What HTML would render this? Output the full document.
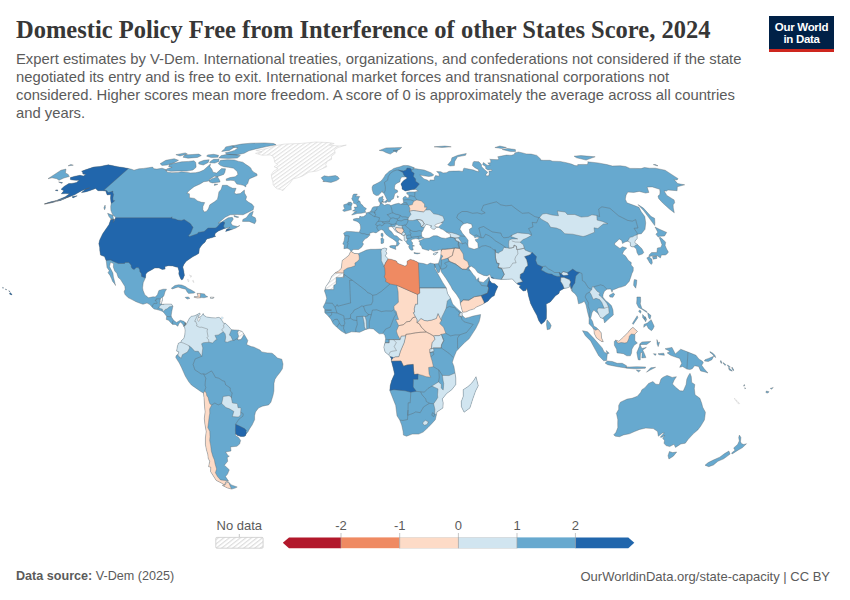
<!DOCTYPE html>
<html><head><meta charset="utf-8">
<style>
html,body{margin:0;padding:0;background:#fff;width:850px;height:600px;overflow:hidden;position:relative}
.t{position:absolute;white-space:nowrap}
#title{left:16px;top:16px;font-family:"Liberation Serif",serif;font-weight:bold;font-size:24.5px;color:#373737;letter-spacing:0px}
#sub{left:16px;top:49.5px;font-family:"Liberation Sans",sans-serif;font-size:14.8px;line-height:18px;color:#5b5b5b}
#logo{position:absolute;left:769px;top:16px;width:65px;height:33px;background:#002147;border-bottom:3px solid #ce261e}
#logo div{position:absolute;left:0;width:65px;text-align:center;color:#fff;font-family:"Liberation Sans",sans-serif;font-weight:bold;font-size:11.5px;letter-spacing:-0.3px}
#src{left:16px;top:569px;font-family:"Liberation Sans",sans-serif;font-size:12.6px;color:#5b5b5b}
#url{right:20px;top:569px;font-family:"Liberation Sans",sans-serif;font-size:13px;color:#5b5b5b}
.lg{position:absolute;font-family:"Liberation Sans",sans-serif;font-size:13px;color:#5b5b5b}
</style></head><body>
<div class="t" id="title">Domestic Policy Free from Interference of other States Score, 2024</div>
<div class="t" id="sub">Expert estimates by V-Dem. International treaties, organizations, and confederations not considered if the state<br>negotiated its entry and is free to exit. International market forces and transnational corporations not<br>considered. Higher scores mean more freedom. A score of 0 is approximately the average across all countries<br>and years.</div>
<div id="logo"><div style="top:4.5px">Our World</div><div style="top:17px">in Data</div></div>
<svg id="map" width="850" height="600" viewBox="0 0 850 600" style="position:absolute;left:0;top:0">
<defs><pattern id="hatch" patternUnits="userSpaceOnUse" width="3.1" height="10" patternTransform="rotate(54)"><rect width="3.1" height="10" fill="#fff"/><rect width="1.1" height="10" fill="#e2e2e2"/></pattern>
<clipPath id="landclip"><path d="M70.4,177.6L75.1,176.2L80.0,175.3L83.4,176.0L85.9,174.4L82.9,174.0L82.7,172.2L81.6,171.3L84.8,170.0L93.6,167.1L99.9,166.5L108.3,164.8L113.2,165.8L117.7,166.7L123.1,167.5L128.4,168.5L131.7,169.3L134.0,170.2L138.9,168.8L143.5,168.4L148.4,167.7L152.6,167.1L153.9,168.8L157.0,169.1L162.1,168.2L165.7,169.5L167.3,172.2L171.9,172.7L178.1,172.4L181.2,171.8L185.9,172.2L190.4,172.9L195.7,172.7L199.8,171.8L203.8,170.0L210.5,163.9L209.9,166.7L211.9,169.3L213.0,172.2L216.6,173.1L221.5,168.6L225.5,168.8L224.9,172.2L223.7,174.4L218.7,176.2L211.5,178.9L209.0,180.8L207.3,181.3L203.8,181.7L200.2,183.9L194.1,186.7L189.0,190.7L186.9,193.3L189.4,193.8L189.5,197.7L194.4,198.4L197.6,200.9L201.6,202.3L204.7,202.6L202.9,206.6L202.8,209.5L204.3,212.0L206.3,211.5L208.3,209.0L209.8,204.8L214.8,201.6L217.5,199.2L218.3,195.5L218.9,191.9L221.2,189.3L222.4,185.3L227.1,185.3L229.8,186.9L232.7,188.3L236.1,188.3L234.3,193.1L236.2,194.1L240.2,193.6L244.4,190.0L244.5,193.1L246.6,196.7L245.7,199.9L248.7,202.3L251.9,204.1L253.9,206.6L253.2,209.8L249.2,211.8L243.1,214.8L237.2,214.5L230.2,214.8L225.2,217.3L218.1,223.2L221.6,221.9L228.1,217.8L232.3,217.3L233.3,219.1L230.8,222.9L232.6,225.5L237.5,226.5L239.8,225.5L235.9,228.0L230.2,230.1L225.6,231.4L226.7,229.3L230.0,227.3L224.4,228.5L218.5,230.9L215.3,233.2L214.7,235.8L215.8,236.3L212.2,237.6L206.9,238.9L206.0,240.2L205.0,242.2L202.8,244.1L201.1,246.1L199.3,248.7L198.9,253.2L196.6,254.7L193.1,256.6L190.2,258.4L186.2,261.3L183.9,264.4L182.8,267.0L183.8,271.2L184.4,275.4L182.8,279.3L181.3,279.8L180.2,277.7L178.8,274.1L179.0,270.9L177.9,267.3L176.0,267.0L172.9,266.0L168.6,265.7L165.0,266.5L165.1,269.1L162.2,269.4L159.1,268.0L154.7,268.0L151.4,269.9L147.6,272.0L145.8,274.1L145.5,277.7L143.2,282.7L142.6,287.9L143.1,290.5L144.9,294.9L147.4,296.8L148.4,297.8L153.1,296.8L155.3,297.0L157.4,294.7L158.9,290.5L163.1,289.2L166.5,289.2L165.0,291.8L163.9,295.7L162.5,297.3L162.4,300.4L161.3,303.6L162.4,304.3L165.8,304.1L171.5,304.1L172.9,306.2L171.8,311.4L171.2,315.3L171.5,317.1L173.6,320.3L176.5,322.4L180.3,320.3L183.9,321.3L185.2,322.6L185.6,324.7L183.9,326.5L182.6,323.9L180.4,322.1L178.7,323.9L177.9,326.3L175.3,324.4L172.5,324.4L171.0,322.9L168.6,320.3L166.3,319.5L166.6,316.3L164.3,313.2L162.6,311.4L160.4,310.6L157.0,309.6L154.1,309.0L152.4,307.5L149.8,304.6L147.0,303.0L143.0,304.3L139.3,303.0L136.0,301.7L132.0,299.6L128.0,297.6L125.0,294.4L124.1,291.8L125.2,289.2L124.8,286.3L122.7,282.9L120.4,279.3L118.2,277.4L116.8,273.3L114.7,270.9L113.3,267.0L113.6,263.6L110.5,262.3L109.5,266.5L111.1,269.6L112.9,273.0L113.4,276.9L114.7,282.1L115.5,285.5L114.8,284.0L112.6,281.4L111.6,278.8L110.0,275.4L108.0,272.7L109.3,270.7L107.0,267.5L106.5,263.1L106.1,260.5L104.5,256.6L100.5,255.0L99.8,250.6L99.7,247.4L98.8,243.8L99.7,239.9L102.7,233.7L108.9,224.7L110.8,219.4L114.4,219.1L113.2,222.4L115.7,217.8L115.0,216.6L113.1,215.3L111.8,212.8L110.9,210.3L110.7,206.6L111.2,203.6L110.8,201.1L110.5,197.9L110.8,194.5L107.2,195.0L105.7,191.1L102.8,190.7L98.0,190.7L95.6,188.5L89.5,190.7L85.5,191.9L81.4,192.6L85.9,189.0L89.7,187.8L82.7,190.2L78.5,192.4L74.6,194.8L67.5,197.5L60.5,200.4L52.9,202.1L47.5,203.6L44.5,203.8L50.0,202.1L56.7,200.4L65.4,196.7L69.5,193.8L65.5,193.6L61.3,193.8L63.9,190.7L61.1,189.3L64.1,186.4L68.8,183.6L71.9,183.4L76.6,182.4L79.2,180.3L76.1,180.3L72.8,180.1L70.4,179.6ZM245.8,186.9L243.3,185.3L240.1,184.6L236.8,184.1L235.5,182.2L234.2,180.6L230.8,180.3L226.3,180.6L226.2,178.9L229.9,177.6L235.2,176.7L237.9,174.4L237.2,171.5L233.5,168.2L228.3,167.3L223.9,166.7L220.7,165.6L218.3,163.7L220.5,160.3L227.4,159.7L234.3,159.9L238.7,161.4L242.8,162.2L246.0,164.6L249.4,166.7L250.9,168.2L251.6,170.0L253.7,172.2L257.0,174.0L257.1,175.6L252.6,177.4L249.2,178.9L248.4,181.3L247.7,183.6L246.0,185.3ZM165.4,170.2L170.7,171.3L179.5,170.9L186.9,171.1L192.9,170.0L196.1,167.3L196.0,165.0L195.6,162.2L193.9,160.8L188.5,161.4L181.6,161.8L173.2,163.5L169.3,164.6L168.7,166.7L172.1,167.3L167.2,168.8ZM160.1,163.7L165.8,160.3L174.2,158.7L178.5,160.3L174.2,162.7L167.1,165.0L162.0,165.4ZM226.6,154.3L236.6,154.9L244.2,153.3L248.9,150.8L255.8,148.9L266.5,146.6L276.1,144.8L273.7,143.5L264.8,142.9L250.8,143.2L241.3,144.1L233.0,145.7L232.6,147.1L238.0,147.9L234.5,150.4L230.1,151.8L225.3,152.7ZM221.6,151.4L229.4,150.4L234.7,147.1L232.5,145.5L225.7,146.9L224.6,148.9ZM218.7,158.0L228.5,158.4L237.4,158.0L240.4,155.6L235.3,154.7L227.3,154.3L221.2,155.6ZM184.8,154.9L183.0,157.2L188.0,158.2L197.5,157.4L201.3,155.6L198.8,154.1L192.2,154.5ZM175.9,154.7L180.0,156.0L187.4,154.1L185.3,152.9ZM206.7,156.2L211.3,157.6L217.9,157.2L218.6,155.3L213.7,154.3L207.6,154.9ZM198.7,163.9L203.3,165.0L208.2,162.5L209.2,159.7L203.9,160.3L198.8,162.2ZM209.6,162.7L214.8,163.1L218.8,161.4L219.1,159.3L213.6,159.3L210.3,161.4ZM209.5,182.0L212.4,182.9L220.1,182.0L219.5,180.1L217.5,176.7L214.3,176.2L209.4,179.4ZM242.5,221.4L249.2,221.4L254.7,223.7L256.1,220.9L255.3,217.8L251.8,216.1L253.3,211.3L249.7,213.3L246.2,217.8L242.9,219.4ZM107.6,213.3L112.9,215.3L113.5,219.6L111.0,218.9L109.0,216.6ZM233.9,215.5L238.8,217.1L237.2,217.6L234.1,216.6ZM105.1,205.1L105.4,207.8L104.6,209.8L103.9,207.8ZM72.0,196.7L77.2,195.8L73.0,197.9ZM58.6,182.0L61.5,183.2L62.6,182.7L60.0,182.2ZM57.2,189.7L58.0,190.9L55.2,190.4ZM44.4,204.1L52.3,202.6L62.2,199.6L70.3,196.0L68.0,197.0L59.1,199.9L49.2,202.8ZM214.5,183.9L217.8,184.3L214.4,185.5ZM171.3,288.3L174.9,285.5L178.4,284.8L181.8,285.0L185.4,286.6L188.1,288.4L191.3,290.0L195.1,292.3L194.3,293.1L188.6,293.4L187.2,292.1L185.7,289.2L181.4,288.2L178.1,287.1L175.3,287.9L172.4,288.9ZM185.2,297.3L188.2,297.0L189.9,298.3L187.5,299.1L185.8,298.1ZM194.1,297.3L197.7,298.1L201.8,297.6L204.0,297.8L207.8,296.8L205.4,295.5L204.6,293.9L200.6,293.4L197.0,293.4L197.9,295.7L198.2,296.8L194.4,296.5ZM210.5,297.0L214.1,297.3L213.3,298.3L210.4,298.3ZM9.5,293.9L11.6,294.9L12.1,294.4L10.0,292.6L9.9,293.1ZM8.7,290.8L10.1,291.3L9.2,291.5ZM5.5,288.9L6.7,289.7L5.8,289.7ZM2.6,287.4L3.6,287.9L2.8,288.2ZM185.2,322.6L186.3,324.2L188.0,321.0L189.6,317.9L191.5,316.3L194.6,315.8L197.7,314.3L199.8,313.0L200.2,314.5L198.0,316.1L198.8,317.9L200.2,316.9L202.2,315.3L203.2,313.5L203.8,315.3L206.4,316.9L211.0,317.7L215.5,317.9L218.5,317.4L220.1,317.9L221.0,319.2L222.9,321.8L223.3,323.1L225.6,323.4L228.5,326.3L231.4,329.7L234.4,329.9L238.8,330.2L242.2,331.5L244.2,334.4L245.3,336.2L247.8,340.6L246.6,344.5L251.2,346.6L253.5,346.9L260.0,350.0L261.7,351.9L267.4,352.9L272.0,353.2L274.4,355.0L277.4,358.1L281.8,359.2L283.0,364.1L282.4,368.8L279.8,372.7L277.1,376.1L275.0,379.3L274.0,383.2L273.9,391.0L273.0,395.5L270.9,402.2L268.6,404.9L266.0,405.4L262.4,406.2L258.5,408.0L255.5,411.9L254.6,415.8L254.6,419.7L252.1,425.0L249.8,428.4L248.1,431.5L246.4,433.4L245.3,435.9L243.5,436.6L240.8,436.4L237.1,435.3L235.6,433.8L235.6,435.4L238.6,437.5L240.6,440.4L239.6,444.0L236.9,446.3L230.6,446.9L231.0,451.0L225.6,452.0L228.1,455.7L229.3,456.2L227.2,457.5L227.7,461.3L224.4,465.2L229.3,469.8L227.5,474.1L225.5,476.6L228.5,481.1L225.7,481.9L224.6,485.1L221.2,482.9L216.2,480.4L210.5,471.5L210.8,467.2L208.6,466.7L209.7,461.3L208.2,458.2L207.8,454.4L206.4,449.7L205.4,444.5L205.4,438.0L206.2,431.5L204.8,423.7L204.3,418.4L205.1,411.9L204.6,406.7L204.0,397.5L203.4,393.1L200.7,391.5L195.6,387.9L191.4,385.0L188.6,381.6L185.3,376.1L181.5,367.5L179.3,363.1L175.8,357.6L176.0,355.8L178.0,354.2L178.9,351.9L176.6,351.1L177.4,346.4L178.4,343.2L180.9,342.2L181.4,340.6L183.8,338.5L184.8,334.9L185.1,330.7L184.8,327.8L183.9,326.5ZM228.5,481.9L231.3,484.9L237.2,487.0L235.1,488.1L231.7,489.1L227.3,487.9L222.3,485.4L225.0,484.9L226.1,482.9ZM350.9,251.3L349.5,249.3L347.1,248.2L343.9,248.7L344.2,244.8L342.8,244.1L344.2,240.4L344.8,236.3L343.6,233.2L346.4,231.4L351.0,231.6L355.8,231.9L359.3,232.2L360.6,228.8L360.6,226.8L360.0,224.2L358.6,222.4L356.4,221.2L353.5,220.4L353.4,219.1L357.0,218.3L359.2,218.6L359.9,216.1L361.1,216.8L363.5,216.6L366.1,214.8L366.2,212.8L368.0,212.5L370.2,211.8L371.5,209.8L372.3,207.8L373.8,206.8L376.7,206.6L378.6,206.3L379.8,205.3L380.2,203.1L378.8,201.3L378.5,199.2L379.3,197.7L383.0,196.2L382.9,197.5L382.4,199.2L383.8,199.4L382.6,201.3L381.5,202.8L382.4,203.8L384.4,205.3L387.2,204.3L389.8,204.8L390.8,205.6L395.0,204.1L398.7,203.3L401.0,204.3L403.5,202.8L403.3,200.4L402.9,198.4L403.8,197.0L405.6,196.2L407.1,197.9L409.0,197.5L408.7,194.8L406.9,194.1L406.7,192.6L409.3,191.9L414.9,191.9L418.2,190.9L415.8,189.5L412.5,189.5L409.0,190.2L405.3,191.1L402.0,189.0L402.0,186.7L400.9,184.1L402.6,181.7L404.4,179.9L406.2,178.9L407.3,177.8L405.7,176.9L401.6,177.1L400.3,179.4L400.0,181.7L397.0,183.2L395.0,184.8L394.5,187.6L394.6,189.3L397.3,190.2L397.8,191.9L394.7,193.8L394.1,196.5L393.4,198.7L391.1,199.9L390.3,201.8L387.8,201.8L387.1,199.9L385.5,196.5L383.9,193.3L382.5,192.4L382.4,190.9L380.7,193.1L378.4,195.3L376.2,195.5L373.5,193.8L372.9,191.9L372.2,189.5L372.1,187.1L373.0,185.3L375.6,184.1L378.2,182.7L380.8,181.3L382.4,179.4L384.2,176.9L385.4,174.7L387.7,172.7L389.2,171.3L391.6,170.0L393.8,168.4L397.0,167.5L400.1,166.7L403.2,165.6L405.2,165.4L408.1,165.6L409.8,166.0L412.6,167.1L414.4,167.7L413.0,168.4L416.4,168.8L419.0,169.3L424.2,170.0L431.0,172.7L433.8,174.9L432.2,176.0L428.8,176.5L422.5,175.6L419.8,175.1L424.0,178.9L427.3,180.1L429.6,181.7L429.9,179.9L434.4,180.1L434.2,177.8L435.5,175.6L439.2,176.2L439.1,173.8L436.6,171.5L440.9,171.8L443.0,172.9L446.3,172.7L449.1,171.3L453.2,171.1L455.8,171.1L459.0,170.9L462.7,171.5L463.7,168.4L464.4,168.2L470.0,169.3L473.7,170.0L476.0,171.1L478.9,171.8L478.3,169.5L474.9,167.7L472.4,165.6L473.0,162.5L473.9,161.4L479.0,161.8L481.4,164.6L481.6,166.7L484.9,170.0L487.7,172.2L485.8,174.7L486.6,176.0L488.9,175.6L489.2,173.3L489.0,171.1L491.9,170.9L491.5,169.5L487.9,170.0L485.6,168.4L485.8,166.7L482.6,164.6L483.4,162.5L487.1,165.2L490.2,165.0L487.8,162.9L490.8,162.7L490.7,160.1L489.7,159.3L498.0,159.7L498.7,158.2L497.7,156.8L501.5,156.0L506.5,155.1L511.3,155.3L514.7,154.3L514.6,152.9L518.3,152.0L521.8,152.7L526.3,153.9L531.1,154.1L536.8,155.4L540.9,159.3L540.2,160.1L543.6,160.3L550.0,160.3L552.6,161.2L560.0,161.4L566.4,162.7L571.5,164.1L575.0,165.6L577.7,165.8L577.7,164.6L583.1,164.4L587.4,164.6L588.0,162.7L587.7,161.8L598.0,162.9L606.9,164.6L612.4,166.0L620.3,165.8L625.7,166.5L630.0,168.4L635.0,168.4L641.1,168.6L644.4,167.5L649.6,168.2L655.4,168.2L665.1,170.2L678.1,178.7L677.1,179.9L674.1,179.6L677.7,183.6L684.7,184.8L677.3,186.7L677.1,190.7L667.9,190.0L666.6,191.1L664.1,190.9L666.9,195.5L674.1,199.9L674.7,202.8L673.1,204.8L673.3,208.1L674.3,212.8L669.4,209.0L662.5,202.8L658.6,198.4L658.0,196.0L659.8,194.5L660.0,191.9L659.7,189.3L652.3,186.9L647.1,187.1L648.9,192.4L645.6,193.1L639.2,191.4L633.7,192.4L627.9,192.1L626.1,195.0L625.3,199.2L626.9,202.8L632.4,204.8L639.0,207.3L641.1,211.5L644.8,216.6L645.7,222.9L645.0,229.3L641.4,233.7L637.5,234.2L637.1,235.0L637.2,238.4L635.1,240.9L634.9,242.8L637.5,244.6L641.9,248.7L643.8,252.6L642.4,253.9L638.6,255.3L637.0,252.6L636.4,249.0L634.1,246.9L632.0,246.9L630.4,245.9L630.3,242.5L627.6,241.2L625.0,242.0L622.5,243.5L621.7,240.4L619.1,238.9L617.2,241.2L614.8,243.0L614.7,244.8L618.5,247.4L620.0,248.5L622.4,246.7L626.7,248.0L623.8,251.1L622.4,253.9L625.3,255.8L628.5,260.5L631.3,262.6L631.1,264.9L633.3,267.5L633.2,270.9L631.9,273.5L630.7,277.4L629.2,281.4L625.5,285.5L621.3,287.1L619.1,287.4L614.9,289.2L612.6,290.0L612.1,292.3L610.6,288.9L607.0,289.2L604.4,291.3L603.1,294.4L602.8,297.0L605.3,300.2L608.5,302.8L611.4,305.6L613.0,310.1L613.3,315.0L610.4,317.4L607.8,319.7L604.6,322.9L603.6,318.7L600.5,317.7L598.0,313.5L593.8,310.1L592.0,312.7L590.7,318.4L592.5,321.3L593.9,326.3L596.1,327.3L598.0,329.1L601.2,332.8L601.6,338.0L603.3,341.7L601.4,341.4L596.5,338.0L594.3,333.6L593.9,329.7L592.4,327.3L589.0,323.7L589.1,317.9L587.6,312.2L586.0,304.9L584.3,301.2L581.8,302.8L578.5,303.8L577.2,297.0L575.2,293.9L571.9,291.3L570.0,286.6L567.3,287.9L564.0,288.4L559.6,291.0L559.0,293.4L555.5,295.7L550.3,302.0L546.2,304.1L546.5,310.6L546.4,318.4L544.3,321.8L541.2,324.2L538.7,320.5L536.8,315.3L533.9,310.1L530.6,303.6L528.5,296.0L527.4,290.5L526.7,288.2L525.9,290.5L523.2,291.0L519.1,287.1L520.8,285.8L517.2,284.0L514.2,281.1L512.4,279.0L507.7,279.3L501.2,279.5L496.4,279.0L491.4,278.0L489.8,274.6L487.1,275.9L483.7,275.4L477.7,272.5L475.1,268.8L471.4,266.2L469.3,267.0L468.9,268.8L470.7,270.9L473.0,274.3L475.4,276.9L476.4,280.1L478.6,277.7L479.0,281.4L483.3,282.4L487.4,278.8L489.0,276.7L489.6,280.3L491.7,282.9L494.9,283.7L497.9,286.6L495.5,291.8L494.2,295.7L492.0,296.8L489.3,299.4L488.2,300.9L482.1,304.6L476.1,307.2L474.4,308.8L469.4,310.3L466.1,311.9L462.6,312.2L461.3,307.5L460.4,303.6L459.7,299.6L456.5,294.4L452.3,289.2L451.0,286.6L448.5,282.4L446.0,278.5L441.4,272.0L440.4,268.3L439.4,272.2L437.9,272.7L435.3,267.3L434.3,263.9L438.4,263.6L439.6,260.0L440.6,256.8L441.0,253.4L441.0,251.3L441.1,249.3L439.7,249.8L436.6,250.6L433.6,251.1L429.9,249.3L428.8,250.6L425.9,249.8L422.3,248.7L421.4,246.1L419.8,244.8L419.9,242.2L418.7,240.9L421.4,239.9L424.4,238.4L429.2,238.1L433.5,235.8L437.1,235.8L441.2,237.8L445.5,238.4L450.5,237.1L450.2,234.2L446.5,232.2L442.9,229.6L440.7,228.8L438.8,227.3L436.3,227.3L434.6,229.3L432.5,229.1L430.3,227.0L432.0,226.0L428.7,225.0L426.1,224.2L424.3,227.3L422.9,230.6L421.5,232.7L421.7,235.8L422.0,236.8L424.3,238.1L421.2,238.4L418.6,239.4L418.1,238.9L415.9,238.6L413.5,239.1L411.6,239.4L411.1,240.9L412.8,243.0L412.1,244.8L414.5,245.9L412.4,246.4L413.2,250.0L411.5,250.3L409.9,249.3L408.6,246.7L409.5,245.4L407.3,244.1L406.1,242.0L404.2,239.9L404.1,236.3L401.8,234.5L399.6,233.2L396.4,231.9L394.6,230.1L393.0,227.5L391.1,226.5L388.4,227.3L389.0,229.8L391.4,231.6L394.2,235.5L396.9,236.0L399.4,238.4L402.4,240.7L401.1,240.4L399.1,239.6L398.2,241.7L399.6,243.5L397.6,246.1L396.5,245.6L396.7,242.2L394.7,240.4L392.7,238.9L389.4,237.1L386.3,234.7L385.0,233.2L383.4,230.4L381.1,229.6L378.7,231.1L376.0,232.9L373.1,232.2L369.7,233.2L369.8,235.3L367.3,237.8L364.8,239.1L362.4,242.2L363.5,244.1L361.6,247.2L358.5,249.5L353.6,249.5ZM351.7,215.0L354.7,214.3L357.1,213.5L361.1,213.3L365.8,212.3L365.0,210.8L366.4,208.6L363.6,206.8L362.7,205.3L360.6,203.6L360.0,201.3L358.3,200.4L358.3,198.9L359.7,196.5L356.9,196.2L355.5,196.5L357.3,194.1L353.7,194.1L352.7,195.5L352.5,197.2L351.7,198.4L352.6,200.4L353.5,201.6L353.6,203.3L356.1,204.1L356.8,205.3L357.2,207.1L354.1,207.1L354.8,208.3L355.0,209.5L352.6,210.8L354.8,211.3L356.5,211.8L354.3,212.3ZM351.3,209.8L351.2,206.6L352.3,203.6L350.9,202.3L348.6,202.3L346.8,203.8L343.7,204.8L343.8,206.8L344.8,208.8L342.6,210.3L344.1,211.5L346.9,210.8L350.7,209.8ZM324.1,181.5L321.2,177.8L324.2,175.8L328.4,176.5L335.5,175.6L337.9,176.7L339.3,178.7L336.6,180.6L331.0,182.4L325.8,181.7L322.8,181.5ZM381.0,233.5L382.7,233.2L383.2,235.3L382.5,237.3L381.1,236.0ZM380.8,238.6L382.5,237.8L383.8,239.6L383.5,243.0L382.3,243.5L381.0,243.5L381.1,240.9ZM389.7,246.1L391.6,245.6L396.5,245.4L395.5,247.7L395.9,249.5L389.9,247.2ZM414.0,252.4L416.2,252.9L420.2,253.2L417.4,253.9L414.1,253.4ZM433.3,253.7L434.7,252.9L438.1,252.1L436.5,253.9L434.7,255.0L433.3,254.5ZM384.2,202.1L386.9,200.1L387.2,201.8L385.8,202.8ZM381.9,201.6L383.8,201.6L383.3,202.8ZM397.2,195.8L398.7,196.7L397.7,197.9ZM379.2,150.4L386.1,147.9L394.6,147.7L401.7,147.4L399.5,149.5L394.2,151.4L390.3,154.1L386.3,152.7L383.0,151.0ZM393.2,150.4L397.6,150.4L396.6,152.4ZM447.7,164.8L451.2,160.8L451.9,157.8L457.8,155.3L466.3,153.5L465.5,155.3L457.5,156.8L454.7,161.4L454.4,165.6L450.0,166.0ZM434.1,146.8L444.9,146.0L451.2,146.8L441.9,147.5ZM502.2,149.5L507.5,148.5L515.3,149.5L515.6,151.4L510.6,151.6ZM494.9,147.5L499.9,146.0L506.4,147.5L501.8,148.5ZM574.1,156.2L580.8,155.6L595.2,156.8L592.2,157.8L586.1,160.1L576.6,157.8ZM653.3,164.6L655.3,164.4L658.0,165.8L656.0,165.6ZM70.8,164.4L73.3,165.2L68.1,165.8ZM61.0,170.2L66.0,169.1L65.4,172.9L68.2,174.4L69.3,176.5L63.9,178.0L59.0,180.3L56.8,178.7L52.0,177.8L48.0,178.7ZM638.0,204.6L643.4,208.1L651.2,216.6L654.6,218.3L654.9,222.9L654.7,225.5L649.9,219.1L643.8,210.8ZM658.2,237.1L655.9,234.2L657.8,232.2L655.0,227.0L659.5,229.3L666.7,232.4L664.5,236.0L659.8,236.3ZM659.9,237.1L663.0,239.6L665.6,242.2L665.1,245.4L666.6,249.0L668.4,252.1L667.0,253.9L665.3,255.0L661.4,255.0L660.4,257.9L657.3,255.8L653.0,255.8L648.9,256.6L649.3,254.7L651.6,252.6L656.9,252.4L657.4,248.0L660.8,247.4L662.0,244.8L660.6,240.9L659.3,237.8ZM653.3,259.2L652.4,256.6L656.6,256.0L656.9,258.4ZM646.8,257.9L649.0,256.8L651.9,259.2L652.3,263.3L651.2,264.4L649.8,263.1L648.1,260.0ZM634.4,279.5L636.8,280.1L636.5,284.0L635.7,288.2L633.6,285.3L633.9,281.4ZM609.4,295.2L613.4,293.1L614.7,294.2L612.9,297.3L609.9,297.0ZM546.5,324.4L547.0,319.7L549.9,323.1L551.2,325.7L549.9,329.1L547.2,329.7ZM636.9,297.0L640.5,297.0L640.7,300.9L640.3,303.8L641.9,308.5L646.8,311.4L646.7,312.4L642.0,309.3L638.6,307.5L636.6,303.6L636.9,299.6ZM643.7,327.3L644.0,324.4L647.3,323.1L651.2,319.7L654.2,326.3L653.0,328.9L651.5,330.7L648.4,328.4L646.5,325.0ZM642.6,314.5L645.7,317.9L644.3,319.5L642.7,317.7ZM647.6,312.7L651.0,315.6L650.0,319.2L648.7,317.7ZM645.1,316.6L646.6,319.2L645.6,321.8L644.3,319.2ZM632.4,323.4L637.2,315.8L637.9,317.7L633.2,324.4ZM639.6,310.1L641.1,311.1L640.6,313.2L638.6,311.4ZM582.5,330.7L587.6,331.8L594.2,338.8L602.2,347.9L604.1,351.9L607.3,353.7L606.6,360.5L603.6,360.7L598.7,355.8L595.4,349.8L590.6,340.9L585.4,335.7ZM605.1,363.1L607.3,361.0L612.3,361.5L617.2,363.3L622.3,363.3L626.5,365.7L626.1,368.0L619.3,367.0L612.5,365.7L607.7,364.7ZM626.2,366.7L629.7,367.0L636.6,366.7L645.7,367.0L645.2,368.3L635.3,368.8L626.4,368.3ZM646.5,372.2L650.7,367.8L655.6,367.3L650.1,370.1ZM636.3,370.1L640.5,370.4L638.5,372.0ZM606.2,350.6L609.2,353.2L607.3,353.7ZM614.3,341.4L615.7,340.1L618.9,341.2L623.4,337.0L627.9,332.5L630.0,329.7L632.9,327.3L637.5,331.5L634.9,334.1L634.8,340.6L637.4,343.0L634.1,345.3L631.9,349.2L631.5,353.2L630.3,355.8L626.8,355.8L623.4,353.7L620.0,353.2L617.0,352.9L616.6,349.2L614.4,345.3ZM638.2,359.7L640.2,360.0L640.5,353.2L642.2,352.1L641.8,357.9L645.9,357.6L644.2,353.2L642.7,350.0L646.4,347.4L641.8,348.5L639.8,343.8L642.0,341.9L650.8,341.4L646.7,344.5L639.8,344.3L639.3,346.6L636.8,352.6ZM656.9,339.6L658.2,342.7L659.6,342.2L658.2,346.6L657.1,344.0ZM658.0,353.7L663.8,353.2L664.4,355.3L659.1,354.7ZM653.4,353.7L656.2,353.9L655.2,355.5ZM350.3,251.9L351.6,251.6L354.4,253.4L358.3,253.7L363.1,251.6L366.3,250.0L370.6,249.3L374.9,249.3L381.6,249.0L384.6,248.0L387.0,248.7L385.8,251.3L386.9,253.2L385.3,255.8L386.7,257.3L388.2,258.9L391.5,259.4L396.4,261.0L397.6,263.3L400.6,264.4L405.1,266.2L407.2,264.4L407.0,261.3L410.2,259.4L413.5,260.2L416.9,261.8L418.4,262.7L423.7,263.6L427.1,264.7L430.2,263.1L434.3,263.9L435.3,267.3L434.7,268.3L437.7,273.5L439.1,276.1L442.9,282.7L446.3,287.9L447.6,293.6L450.5,298.3L452.7,304.1L456.8,308.3L460.3,311.4L462.2,313.2L462.1,315.3L465.2,318.2L468.6,317.4L473.1,316.1L480.6,314.5L480.1,317.9L479.1,321.8L475.8,328.4L472.5,333.6L469.1,338.8L464.5,342.7L459.9,347.4L456.4,351.3L454.0,357.1L452.3,362.3L453.9,366.2L454.9,372.2L455.8,378.0L455.8,384.5L451.8,389.7L446.6,393.6L442.3,398.9L443.2,402.8L442.9,408.0L437.0,411.9L436.3,415.3L435.3,419.7L431.7,423.7L428.0,427.6L423.2,432.0L418.7,434.1L412.2,434.1L406.6,436.2L403.4,435.1L403.1,431.5L401.7,425.0L399.7,420.0L397.0,415.8L395.7,405.4L393.6,400.2L389.8,390.4L390.2,385.8L391.6,380.6L394.5,374.0L393.4,368.8L391.4,361.3L391.2,358.4L389.6,355.8L385.0,351.9L383.8,347.2L385.0,342.7L385.6,338.8L384.9,335.4L383.3,333.6L379.2,333.8L375.7,331.0L373.4,328.9L369.3,328.6L365.8,329.4L359.6,332.3L356.2,332.0L351.5,331.8L345.8,333.8L341.2,331.0L336.6,327.1L333.2,323.7L330.9,319.2L327.5,315.3L324.8,312.7L324.7,309.3L323.1,307.0L325.5,302.3L326.7,298.3L325.7,294.4L324.5,291.0L325.9,286.6L329.4,281.4L331.8,276.1L335.2,272.7L338.6,270.9L341.3,268.3L341.6,265.7L342.2,260.5L345.6,257.9L348.9,255.3ZM476.0,376.7L478.3,385.8L475.6,391.0L472.8,398.9L469.9,408.0L464.1,412.2L461.4,406.7L461.3,401.5L463.3,396.2L463.2,389.7L468.0,386.6L471.6,383.2L474.0,380.1ZM620.4,402.2L627.1,399.1L632.0,398.3L637.4,396.2L640.8,392.3L641.9,389.7L644.7,387.9L648.6,383.4L652.9,381.6L655.8,384.2L659.2,384.5L661.0,379.0L663.1,377.2L667.0,375.4L668.9,376.1L672.2,377.4L676.4,376.7L674.2,380.1L672.5,384.0L675.4,387.1L679.9,390.8L683.3,391.0L686.1,384.5L686.8,379.3L688.5,375.4L690.0,373.3L691.3,376.7L691.7,382.4L694.8,384.5L694.3,388.4L695.0,394.7L699.9,398.3L701.8,403.6L702.7,407.2L705.4,412.2L705.0,415.8L704.4,420.0L700.6,426.3L697.8,429.9L693.5,433.6L688.2,439.3L685.3,443.2L680.8,444.0L675.5,447.4L674.0,444.3L669.7,446.6L666.0,445.6L664.0,443.2L664.5,440.6L662.7,438.3L664.7,435.4L662.0,437.2L660.2,437.2L664.3,432.8L662.5,433.1L658.3,436.2L657.6,431.5L653.3,428.6L645.8,428.1L639.8,429.4L634.6,431.5L629.4,433.8L623.5,434.9L619.6,436.7L615.4,436.2L613.7,434.9L616.0,432.3L617.8,427.6L617.7,423.7L617.8,419.7L616.7,414.5L616.3,413.5L618.7,409.3L618.7,405.4ZM669.4,451.5L672.6,452.6L676.7,452.0L673.3,456.2L668.9,459.0L668.0,455.7ZM739.4,435.1L740.9,437.5L740.5,441.4L741.3,443.5L743.8,444.5L746.5,443.7L742.6,447.6L738.8,449.7L732.2,453.9L731.5,453.1L735.0,450.2L733.7,447.9L737.6,444.5L739.3,440.9L738.7,437.5ZM728.9,451.0L730.1,454.1L723.7,458.8L717.9,461.3L713.5,464.9L708.8,466.7L705.0,465.2L708.2,462.6L713.3,460.0L719.7,457.2L724.6,453.6ZM665.1,348.7L672.0,347.4L675.3,353.9L680.7,349.2L688.0,352.1L696.0,355.3L698.8,358.9L702.5,361.3L703.3,362.8L701.7,365.2L704.2,368.8L707.3,372.2L707.9,373.0L705.0,372.0L700.6,370.9L698.6,366.5L694.6,365.7L692.2,368.8L689.9,369.6L686.9,369.1L682.6,366.5L679.7,367.3L681.7,363.3L679.7,358.4L674.0,356.6L670.6,355.3L667.2,352.9L670.1,351.3L665.8,349.2ZM705.0,359.7L708.5,358.4L713.7,356.3L711.9,359.7L708.3,361.5L704.4,361.0ZM709.9,351.6L712.9,353.2L714.9,355.3L715.7,357.6L714.6,356.8L712.4,354.2L710.1,352.4ZM721.0,360.5L721.9,363.1L721.0,363.3L720.3,361.0ZM723.1,362.6L725.9,364.7L725.2,365.4L723.3,363.6ZM727.7,364.9L730.3,367.0L729.6,367.5L727.4,365.7ZM728.4,367.5L731.6,370.1L732.2,371.2L729.3,370.1ZM731.9,367.0L733.9,370.1L733.2,370.7L732.0,368.6ZM766.3,391.0L769.1,391.8L767.8,393.1L765.9,392.6ZM770.3,388.4L773.3,387.6L771.3,389.2ZM744.4,384.5L744.7,385.8L743.5,386.1ZM744.8,387.6L745.7,388.4L744.8,388.7ZM255.8,150.4L267.0,148.5L275.2,145.7L284.2,144.1L301.3,143.4L315.8,142.0L329.0,142.6L334.2,143.5L329.5,145.2L339.1,146.0L346.3,145.1L338.0,147.5L334.6,149.9L335.2,153.3L331.5,156.2L331.6,159.3L327.2,161.4L325.7,164.6L326.8,166.7L322.2,168.8L316.7,171.1L308.8,172.2L302.6,176.0L297.7,177.8L293.0,178.9L289.8,183.6L285.9,187.1L282.9,190.7L280.6,189.5L277.2,188.8L275.0,187.1L273.2,184.8L272.8,181.3L271.6,177.8L271.4,174.4L273.7,171.1L278.1,168.8L274.1,166.7L277.7,164.6L274.8,162.5L274.2,159.3L272.9,156.2L270.1,154.9L262.2,155.3L255.5,153.3L262.0,151.8ZM187.4,279.5L188.5,281.9L188.9,280.1L188.2,279.3ZM190.3,275.9L190.7,277.4L191.9,276.1L189.4,275.1ZM192.4,280.6L193.8,282.7L193.4,280.3ZM221.1,317.1L223.1,317.1L223.0,319.0L221.0,319.0ZM734.4,398.1L739.7,403.6L738.3,403.8L734.6,399.1Z"/></clipPath></defs>
<path d="M255.8,150.4L267.0,148.5L275.2,145.7L284.2,144.1L301.3,143.4L315.8,142.0L329.0,142.6L334.2,143.5L329.5,145.2L339.1,146.0L346.3,145.1L338.0,147.5L334.6,149.9L335.2,153.3L331.5,156.2L331.6,159.3L327.2,161.4L325.7,164.6L326.8,166.7L322.2,168.8L316.7,171.1L308.8,172.2L302.6,176.0L297.7,177.8L293.0,178.9L289.8,183.6L285.9,187.1L282.9,190.7L280.6,189.5L277.2,188.8L275.0,187.1L273.2,184.8L272.8,181.3L271.6,177.8L271.4,174.4L273.7,171.1L278.1,168.8L274.1,166.7L277.7,164.6L274.8,162.5L274.2,159.3L272.9,156.2L270.1,154.9L262.2,155.3L255.5,153.3L262.0,151.8ZM187.4,279.5L188.5,281.9L188.9,280.1L188.2,279.3ZM190.3,275.9L190.7,277.4L191.9,276.1L189.4,275.1ZM192.4,280.6L193.8,282.7L193.4,280.3ZM221.1,317.1L223.1,317.1L223.0,319.0L221.0,319.0ZM734.4,398.1L739.7,403.6L738.3,403.8L734.6,399.1Z" fill="url(#hatch)" stroke="#d0d0d0" stroke-width="0.5"/>
<path d="M70.4,177.6L75.1,176.2L80.0,175.3L83.4,176.0L85.9,174.4L82.9,174.0L82.7,172.2L81.6,171.3L84.8,170.0L93.6,167.1L99.9,166.5L108.3,164.8L113.2,165.8L117.7,166.7L123.1,167.5L128.4,168.5L131.7,169.3L134.0,170.2L138.9,168.8L143.5,168.4L148.4,167.7L152.6,167.1L153.9,168.8L157.0,169.1L162.1,168.2L165.7,169.5L167.3,172.2L171.9,172.7L178.1,172.4L181.2,171.8L185.9,172.2L190.4,172.9L195.7,172.7L199.8,171.8L203.8,170.0L210.5,163.9L209.9,166.7L211.9,169.3L213.0,172.2L216.6,173.1L221.5,168.6L225.5,168.8L224.9,172.2L223.7,174.4L218.7,176.2L211.5,178.9L209.0,180.8L207.3,181.3L203.8,181.7L200.2,183.9L194.1,186.7L189.0,190.7L186.9,193.3L189.4,193.8L189.5,197.7L194.4,198.4L197.6,200.9L201.6,202.3L204.7,202.6L202.9,206.6L202.8,209.5L204.3,212.0L206.3,211.5L208.3,209.0L209.8,204.8L214.8,201.6L217.5,199.2L218.3,195.5L218.9,191.9L221.2,189.3L222.4,185.3L227.1,185.3L229.8,186.9L232.7,188.3L236.1,188.3L234.3,193.1L236.2,194.1L240.2,193.6L244.4,190.0L244.5,193.1L246.6,196.7L245.7,199.9L248.7,202.3L251.9,204.1L253.9,206.6L253.2,209.8L249.2,211.8L243.1,214.8L237.2,214.5L230.2,214.8L225.2,217.3L218.1,223.2L221.6,221.9L228.1,217.8L232.3,217.3L233.3,219.1L230.8,222.9L232.6,225.5L237.5,226.5L239.8,225.5L235.9,228.0L230.2,230.1L225.6,231.4L226.7,229.3L230.0,227.3L224.4,228.5L218.5,230.9L215.3,233.2L214.7,235.8L215.8,236.3L212.2,237.6L206.9,238.9L206.0,240.2L205.0,242.2L202.8,244.1L201.1,246.1L199.3,248.7L198.9,253.2L196.6,254.7L193.1,256.6L190.2,258.4L186.2,261.3L183.9,264.4L182.8,267.0L183.8,271.2L184.4,275.4L182.8,279.3L181.3,279.8L180.2,277.7L178.8,274.1L179.0,270.9L177.9,267.3L176.0,267.0L172.9,266.0L168.6,265.7L165.0,266.5L165.1,269.1L162.2,269.4L159.1,268.0L154.7,268.0L151.4,269.9L147.6,272.0L145.8,274.1L145.5,277.7L143.2,282.7L142.6,287.9L143.1,290.5L144.9,294.9L147.4,296.8L148.4,297.8L153.1,296.8L155.3,297.0L157.4,294.7L158.9,290.5L163.1,289.2L166.5,289.2L165.0,291.8L163.9,295.7L162.5,297.3L162.4,300.4L161.3,303.6L162.4,304.3L165.8,304.1L171.5,304.1L172.9,306.2L171.8,311.4L171.2,315.3L171.5,317.1L173.6,320.3L176.5,322.4L180.3,320.3L183.9,321.3L185.2,322.6L185.6,324.7L183.9,326.5L182.6,323.9L180.4,322.1L178.7,323.9L177.9,326.3L175.3,324.4L172.5,324.4L171.0,322.9L168.6,320.3L166.3,319.5L166.6,316.3L164.3,313.2L162.6,311.4L160.4,310.6L157.0,309.6L154.1,309.0L152.4,307.5L149.8,304.6L147.0,303.0L143.0,304.3L139.3,303.0L136.0,301.7L132.0,299.6L128.0,297.6L125.0,294.4L124.1,291.8L125.2,289.2L124.8,286.3L122.7,282.9L120.4,279.3L118.2,277.4L116.8,273.3L114.7,270.9L113.3,267.0L113.6,263.6L110.5,262.3L109.5,266.5L111.1,269.6L112.9,273.0L113.4,276.9L114.7,282.1L115.5,285.5L114.8,284.0L112.6,281.4L111.6,278.8L110.0,275.4L108.0,272.7L109.3,270.7L107.0,267.5L106.5,263.1L106.1,260.5L104.5,256.6L100.5,255.0L99.8,250.6L99.7,247.4L98.8,243.8L99.7,239.9L102.7,233.7L108.9,224.7L110.8,219.4L114.4,219.1L113.2,222.4L115.7,217.8L115.0,216.6L113.1,215.3L111.8,212.8L110.9,210.3L110.7,206.6L111.2,203.6L110.8,201.1L110.5,197.9L110.8,194.5L107.2,195.0L105.7,191.1L102.8,190.7L98.0,190.7L95.6,188.5L89.5,190.7L85.5,191.9L81.4,192.6L85.9,189.0L89.7,187.8L82.7,190.2L78.5,192.4L74.6,194.8L67.5,197.5L60.5,200.4L52.9,202.1L47.5,203.6L44.5,203.8L50.0,202.1L56.7,200.4L65.4,196.7L69.5,193.8L65.5,193.6L61.3,193.8L63.9,190.7L61.1,189.3L64.1,186.4L68.8,183.6L71.9,183.4L76.6,182.4L79.2,180.3L76.1,180.3L72.8,180.1L70.4,179.6ZM245.8,186.9L243.3,185.3L240.1,184.6L236.8,184.1L235.5,182.2L234.2,180.6L230.8,180.3L226.3,180.6L226.2,178.9L229.9,177.6L235.2,176.7L237.9,174.4L237.2,171.5L233.5,168.2L228.3,167.3L223.9,166.7L220.7,165.6L218.3,163.7L220.5,160.3L227.4,159.7L234.3,159.9L238.7,161.4L242.8,162.2L246.0,164.6L249.4,166.7L250.9,168.2L251.6,170.0L253.7,172.2L257.0,174.0L257.1,175.6L252.6,177.4L249.2,178.9L248.4,181.3L247.7,183.6L246.0,185.3ZM165.4,170.2L170.7,171.3L179.5,170.9L186.9,171.1L192.9,170.0L196.1,167.3L196.0,165.0L195.6,162.2L193.9,160.8L188.5,161.4L181.6,161.8L173.2,163.5L169.3,164.6L168.7,166.7L172.1,167.3L167.2,168.8ZM160.1,163.7L165.8,160.3L174.2,158.7L178.5,160.3L174.2,162.7L167.1,165.0L162.0,165.4ZM226.6,154.3L236.6,154.9L244.2,153.3L248.9,150.8L255.8,148.9L266.5,146.6L276.1,144.8L273.7,143.5L264.8,142.9L250.8,143.2L241.3,144.1L233.0,145.7L232.6,147.1L238.0,147.9L234.5,150.4L230.1,151.8L225.3,152.7ZM221.6,151.4L229.4,150.4L234.7,147.1L232.5,145.5L225.7,146.9L224.6,148.9ZM218.7,158.0L228.5,158.4L237.4,158.0L240.4,155.6L235.3,154.7L227.3,154.3L221.2,155.6ZM184.8,154.9L183.0,157.2L188.0,158.2L197.5,157.4L201.3,155.6L198.8,154.1L192.2,154.5ZM175.9,154.7L180.0,156.0L187.4,154.1L185.3,152.9ZM206.7,156.2L211.3,157.6L217.9,157.2L218.6,155.3L213.7,154.3L207.6,154.9ZM198.7,163.9L203.3,165.0L208.2,162.5L209.2,159.7L203.9,160.3L198.8,162.2ZM209.6,162.7L214.8,163.1L218.8,161.4L219.1,159.3L213.6,159.3L210.3,161.4ZM209.5,182.0L212.4,182.9L220.1,182.0L219.5,180.1L217.5,176.7L214.3,176.2L209.4,179.4ZM242.5,221.4L249.2,221.4L254.7,223.7L256.1,220.9L255.3,217.8L251.8,216.1L253.3,211.3L249.7,213.3L246.2,217.8L242.9,219.4ZM107.6,213.3L112.9,215.3L113.5,219.6L111.0,218.9L109.0,216.6ZM233.9,215.5L238.8,217.1L237.2,217.6L234.1,216.6ZM105.1,205.1L105.4,207.8L104.6,209.8L103.9,207.8ZM72.0,196.7L77.2,195.8L73.0,197.9ZM58.6,182.0L61.5,183.2L62.6,182.7L60.0,182.2ZM57.2,189.7L58.0,190.9L55.2,190.4ZM44.4,204.1L52.3,202.6L62.2,199.6L70.3,196.0L68.0,197.0L59.1,199.9L49.2,202.8ZM214.5,183.9L217.8,184.3L214.4,185.5ZM171.3,288.3L174.9,285.5L178.4,284.8L181.8,285.0L185.4,286.6L188.1,288.4L191.3,290.0L195.1,292.3L194.3,293.1L188.6,293.4L187.2,292.1L185.7,289.2L181.4,288.2L178.1,287.1L175.3,287.9L172.4,288.9ZM185.2,297.3L188.2,297.0L189.9,298.3L187.5,299.1L185.8,298.1ZM194.1,297.3L197.7,298.1L201.8,297.6L204.0,297.8L207.8,296.8L205.4,295.5L204.6,293.9L200.6,293.4L197.0,293.4L197.9,295.7L198.2,296.8L194.4,296.5ZM210.5,297.0L214.1,297.3L213.3,298.3L210.4,298.3ZM9.5,293.9L11.6,294.9L12.1,294.4L10.0,292.6L9.9,293.1ZM8.7,290.8L10.1,291.3L9.2,291.5ZM5.5,288.9L6.7,289.7L5.8,289.7ZM2.6,287.4L3.6,287.9L2.8,288.2ZM185.2,322.6L186.3,324.2L188.0,321.0L189.6,317.9L191.5,316.3L194.6,315.8L197.7,314.3L199.8,313.0L200.2,314.5L198.0,316.1L198.8,317.9L200.2,316.9L202.2,315.3L203.2,313.5L203.8,315.3L206.4,316.9L211.0,317.7L215.5,317.9L218.5,317.4L220.1,317.9L221.0,319.2L222.9,321.8L223.3,323.1L225.6,323.4L228.5,326.3L231.4,329.7L234.4,329.9L238.8,330.2L242.2,331.5L244.2,334.4L245.3,336.2L247.8,340.6L246.6,344.5L251.2,346.6L253.5,346.9L260.0,350.0L261.7,351.9L267.4,352.9L272.0,353.2L274.4,355.0L277.4,358.1L281.8,359.2L283.0,364.1L282.4,368.8L279.8,372.7L277.1,376.1L275.0,379.3L274.0,383.2L273.9,391.0L273.0,395.5L270.9,402.2L268.6,404.9L266.0,405.4L262.4,406.2L258.5,408.0L255.5,411.9L254.6,415.8L254.6,419.7L252.1,425.0L249.8,428.4L248.1,431.5L246.4,433.4L245.3,435.9L243.5,436.6L240.8,436.4L237.1,435.3L235.6,433.8L235.6,435.4L238.6,437.5L240.6,440.4L239.6,444.0L236.9,446.3L230.6,446.9L231.0,451.0L225.6,452.0L228.1,455.7L229.3,456.2L227.2,457.5L227.7,461.3L224.4,465.2L229.3,469.8L227.5,474.1L225.5,476.6L228.5,481.1L225.7,481.9L224.6,485.1L221.2,482.9L216.2,480.4L210.5,471.5L210.8,467.2L208.6,466.7L209.7,461.3L208.2,458.2L207.8,454.4L206.4,449.7L205.4,444.5L205.4,438.0L206.2,431.5L204.8,423.7L204.3,418.4L205.1,411.9L204.6,406.7L204.0,397.5L203.4,393.1L200.7,391.5L195.6,387.9L191.4,385.0L188.6,381.6L185.3,376.1L181.5,367.5L179.3,363.1L175.8,357.6L176.0,355.8L178.0,354.2L178.9,351.9L176.6,351.1L177.4,346.4L178.4,343.2L180.9,342.2L181.4,340.6L183.8,338.5L184.8,334.9L185.1,330.7L184.8,327.8L183.9,326.5ZM228.5,481.9L231.3,484.9L237.2,487.0L235.1,488.1L231.7,489.1L227.3,487.9L222.3,485.4L225.0,484.9L226.1,482.9ZM350.9,251.3L349.5,249.3L347.1,248.2L343.9,248.7L344.2,244.8L342.8,244.1L344.2,240.4L344.8,236.3L343.6,233.2L346.4,231.4L351.0,231.6L355.8,231.9L359.3,232.2L360.6,228.8L360.6,226.8L360.0,224.2L358.6,222.4L356.4,221.2L353.5,220.4L353.4,219.1L357.0,218.3L359.2,218.6L359.9,216.1L361.1,216.8L363.5,216.6L366.1,214.8L366.2,212.8L368.0,212.5L370.2,211.8L371.5,209.8L372.3,207.8L373.8,206.8L376.7,206.6L378.6,206.3L379.8,205.3L380.2,203.1L378.8,201.3L378.5,199.2L379.3,197.7L383.0,196.2L382.9,197.5L382.4,199.2L383.8,199.4L382.6,201.3L381.5,202.8L382.4,203.8L384.4,205.3L387.2,204.3L389.8,204.8L390.8,205.6L395.0,204.1L398.7,203.3L401.0,204.3L403.5,202.8L403.3,200.4L402.9,198.4L403.8,197.0L405.6,196.2L407.1,197.9L409.0,197.5L408.7,194.8L406.9,194.1L406.7,192.6L409.3,191.9L414.9,191.9L418.2,190.9L415.8,189.5L412.5,189.5L409.0,190.2L405.3,191.1L402.0,189.0L402.0,186.7L400.9,184.1L402.6,181.7L404.4,179.9L406.2,178.9L407.3,177.8L405.7,176.9L401.6,177.1L400.3,179.4L400.0,181.7L397.0,183.2L395.0,184.8L394.5,187.6L394.6,189.3L397.3,190.2L397.8,191.9L394.7,193.8L394.1,196.5L393.4,198.7L391.1,199.9L390.3,201.8L387.8,201.8L387.1,199.9L385.5,196.5L383.9,193.3L382.5,192.4L382.4,190.9L380.7,193.1L378.4,195.3L376.2,195.5L373.5,193.8L372.9,191.9L372.2,189.5L372.1,187.1L373.0,185.3L375.6,184.1L378.2,182.7L380.8,181.3L382.4,179.4L384.2,176.9L385.4,174.7L387.7,172.7L389.2,171.3L391.6,170.0L393.8,168.4L397.0,167.5L400.1,166.7L403.2,165.6L405.2,165.4L408.1,165.6L409.8,166.0L412.6,167.1L414.4,167.7L413.0,168.4L416.4,168.8L419.0,169.3L424.2,170.0L431.0,172.7L433.8,174.9L432.2,176.0L428.8,176.5L422.5,175.6L419.8,175.1L424.0,178.9L427.3,180.1L429.6,181.7L429.9,179.9L434.4,180.1L434.2,177.8L435.5,175.6L439.2,176.2L439.1,173.8L436.6,171.5L440.9,171.8L443.0,172.9L446.3,172.7L449.1,171.3L453.2,171.1L455.8,171.1L459.0,170.9L462.7,171.5L463.7,168.4L464.4,168.2L470.0,169.3L473.7,170.0L476.0,171.1L478.9,171.8L478.3,169.5L474.9,167.7L472.4,165.6L473.0,162.5L473.9,161.4L479.0,161.8L481.4,164.6L481.6,166.7L484.9,170.0L487.7,172.2L485.8,174.7L486.6,176.0L488.9,175.6L489.2,173.3L489.0,171.1L491.9,170.9L491.5,169.5L487.9,170.0L485.6,168.4L485.8,166.7L482.6,164.6L483.4,162.5L487.1,165.2L490.2,165.0L487.8,162.9L490.8,162.7L490.7,160.1L489.7,159.3L498.0,159.7L498.7,158.2L497.7,156.8L501.5,156.0L506.5,155.1L511.3,155.3L514.7,154.3L514.6,152.9L518.3,152.0L521.8,152.7L526.3,153.9L531.1,154.1L536.8,155.4L540.9,159.3L540.2,160.1L543.6,160.3L550.0,160.3L552.6,161.2L560.0,161.4L566.4,162.7L571.5,164.1L575.0,165.6L577.7,165.8L577.7,164.6L583.1,164.4L587.4,164.6L588.0,162.7L587.7,161.8L598.0,162.9L606.9,164.6L612.4,166.0L620.3,165.8L625.7,166.5L630.0,168.4L635.0,168.4L641.1,168.6L644.4,167.5L649.6,168.2L655.4,168.2L665.1,170.2L678.1,178.7L677.1,179.9L674.1,179.6L677.7,183.6L684.7,184.8L677.3,186.7L677.1,190.7L667.9,190.0L666.6,191.1L664.1,190.9L666.9,195.5L674.1,199.9L674.7,202.8L673.1,204.8L673.3,208.1L674.3,212.8L669.4,209.0L662.5,202.8L658.6,198.4L658.0,196.0L659.8,194.5L660.0,191.9L659.7,189.3L652.3,186.9L647.1,187.1L648.9,192.4L645.6,193.1L639.2,191.4L633.7,192.4L627.9,192.1L626.1,195.0L625.3,199.2L626.9,202.8L632.4,204.8L639.0,207.3L641.1,211.5L644.8,216.6L645.7,222.9L645.0,229.3L641.4,233.7L637.5,234.2L637.1,235.0L637.2,238.4L635.1,240.9L634.9,242.8L637.5,244.6L641.9,248.7L643.8,252.6L642.4,253.9L638.6,255.3L637.0,252.6L636.4,249.0L634.1,246.9L632.0,246.9L630.4,245.9L630.3,242.5L627.6,241.2L625.0,242.0L622.5,243.5L621.7,240.4L619.1,238.9L617.2,241.2L614.8,243.0L614.7,244.8L618.5,247.4L620.0,248.5L622.4,246.7L626.7,248.0L623.8,251.1L622.4,253.9L625.3,255.8L628.5,260.5L631.3,262.6L631.1,264.9L633.3,267.5L633.2,270.9L631.9,273.5L630.7,277.4L629.2,281.4L625.5,285.5L621.3,287.1L619.1,287.4L614.9,289.2L612.6,290.0L612.1,292.3L610.6,288.9L607.0,289.2L604.4,291.3L603.1,294.4L602.8,297.0L605.3,300.2L608.5,302.8L611.4,305.6L613.0,310.1L613.3,315.0L610.4,317.4L607.8,319.7L604.6,322.9L603.6,318.7L600.5,317.7L598.0,313.5L593.8,310.1L592.0,312.7L590.7,318.4L592.5,321.3L593.9,326.3L596.1,327.3L598.0,329.1L601.2,332.8L601.6,338.0L603.3,341.7L601.4,341.4L596.5,338.0L594.3,333.6L593.9,329.7L592.4,327.3L589.0,323.7L589.1,317.9L587.6,312.2L586.0,304.9L584.3,301.2L581.8,302.8L578.5,303.8L577.2,297.0L575.2,293.9L571.9,291.3L570.0,286.6L567.3,287.9L564.0,288.4L559.6,291.0L559.0,293.4L555.5,295.7L550.3,302.0L546.2,304.1L546.5,310.6L546.4,318.4L544.3,321.8L541.2,324.2L538.7,320.5L536.8,315.3L533.9,310.1L530.6,303.6L528.5,296.0L527.4,290.5L526.7,288.2L525.9,290.5L523.2,291.0L519.1,287.1L520.8,285.8L517.2,284.0L514.2,281.1L512.4,279.0L507.7,279.3L501.2,279.5L496.4,279.0L491.4,278.0L489.8,274.6L487.1,275.9L483.7,275.4L477.7,272.5L475.1,268.8L471.4,266.2L469.3,267.0L468.9,268.8L470.7,270.9L473.0,274.3L475.4,276.9L476.4,280.1L478.6,277.7L479.0,281.4L483.3,282.4L487.4,278.8L489.0,276.7L489.6,280.3L491.7,282.9L494.9,283.7L497.9,286.6L495.5,291.8L494.2,295.7L492.0,296.8L489.3,299.4L488.2,300.9L482.1,304.6L476.1,307.2L474.4,308.8L469.4,310.3L466.1,311.9L462.6,312.2L461.3,307.5L460.4,303.6L459.7,299.6L456.5,294.4L452.3,289.2L451.0,286.6L448.5,282.4L446.0,278.5L441.4,272.0L440.4,268.3L439.4,272.2L437.9,272.7L435.3,267.3L434.3,263.9L438.4,263.6L439.6,260.0L440.6,256.8L441.0,253.4L441.0,251.3L441.1,249.3L439.7,249.8L436.6,250.6L433.6,251.1L429.9,249.3L428.8,250.6L425.9,249.8L422.3,248.7L421.4,246.1L419.8,244.8L419.9,242.2L418.7,240.9L421.4,239.9L424.4,238.4L429.2,238.1L433.5,235.8L437.1,235.8L441.2,237.8L445.5,238.4L450.5,237.1L450.2,234.2L446.5,232.2L442.9,229.6L440.7,228.8L438.8,227.3L436.3,227.3L434.6,229.3L432.5,229.1L430.3,227.0L432.0,226.0L428.7,225.0L426.1,224.2L424.3,227.3L422.9,230.6L421.5,232.7L421.7,235.8L422.0,236.8L424.3,238.1L421.2,238.4L418.6,239.4L418.1,238.9L415.9,238.6L413.5,239.1L411.6,239.4L411.1,240.9L412.8,243.0L412.1,244.8L414.5,245.9L412.4,246.4L413.2,250.0L411.5,250.3L409.9,249.3L408.6,246.7L409.5,245.4L407.3,244.1L406.1,242.0L404.2,239.9L404.1,236.3L401.8,234.5L399.6,233.2L396.4,231.9L394.6,230.1L393.0,227.5L391.1,226.5L388.4,227.3L389.0,229.8L391.4,231.6L394.2,235.5L396.9,236.0L399.4,238.4L402.4,240.7L401.1,240.4L399.1,239.6L398.2,241.7L399.6,243.5L397.6,246.1L396.5,245.6L396.7,242.2L394.7,240.4L392.7,238.9L389.4,237.1L386.3,234.7L385.0,233.2L383.4,230.4L381.1,229.6L378.7,231.1L376.0,232.9L373.1,232.2L369.7,233.2L369.8,235.3L367.3,237.8L364.8,239.1L362.4,242.2L363.5,244.1L361.6,247.2L358.5,249.5L353.6,249.5ZM351.7,215.0L354.7,214.3L357.1,213.5L361.1,213.3L365.8,212.3L365.0,210.8L366.4,208.6L363.6,206.8L362.7,205.3L360.6,203.6L360.0,201.3L358.3,200.4L358.3,198.9L359.7,196.5L356.9,196.2L355.5,196.5L357.3,194.1L353.7,194.1L352.7,195.5L352.5,197.2L351.7,198.4L352.6,200.4L353.5,201.6L353.6,203.3L356.1,204.1L356.8,205.3L357.2,207.1L354.1,207.1L354.8,208.3L355.0,209.5L352.6,210.8L354.8,211.3L356.5,211.8L354.3,212.3ZM351.3,209.8L351.2,206.6L352.3,203.6L350.9,202.3L348.6,202.3L346.8,203.8L343.7,204.8L343.8,206.8L344.8,208.8L342.6,210.3L344.1,211.5L346.9,210.8L350.7,209.8ZM324.1,181.5L321.2,177.8L324.2,175.8L328.4,176.5L335.5,175.6L337.9,176.7L339.3,178.7L336.6,180.6L331.0,182.4L325.8,181.7L322.8,181.5ZM381.0,233.5L382.7,233.2L383.2,235.3L382.5,237.3L381.1,236.0ZM380.8,238.6L382.5,237.8L383.8,239.6L383.5,243.0L382.3,243.5L381.0,243.5L381.1,240.9ZM389.7,246.1L391.6,245.6L396.5,245.4L395.5,247.7L395.9,249.5L389.9,247.2ZM414.0,252.4L416.2,252.9L420.2,253.2L417.4,253.9L414.1,253.4ZM433.3,253.7L434.7,252.9L438.1,252.1L436.5,253.9L434.7,255.0L433.3,254.5ZM384.2,202.1L386.9,200.1L387.2,201.8L385.8,202.8ZM381.9,201.6L383.8,201.6L383.3,202.8ZM397.2,195.8L398.7,196.7L397.7,197.9ZM379.2,150.4L386.1,147.9L394.6,147.7L401.7,147.4L399.5,149.5L394.2,151.4L390.3,154.1L386.3,152.7L383.0,151.0ZM393.2,150.4L397.6,150.4L396.6,152.4ZM447.7,164.8L451.2,160.8L451.9,157.8L457.8,155.3L466.3,153.5L465.5,155.3L457.5,156.8L454.7,161.4L454.4,165.6L450.0,166.0ZM434.1,146.8L444.9,146.0L451.2,146.8L441.9,147.5ZM502.2,149.5L507.5,148.5L515.3,149.5L515.6,151.4L510.6,151.6ZM494.9,147.5L499.9,146.0L506.4,147.5L501.8,148.5ZM574.1,156.2L580.8,155.6L595.2,156.8L592.2,157.8L586.1,160.1L576.6,157.8ZM653.3,164.6L655.3,164.4L658.0,165.8L656.0,165.6ZM70.8,164.4L73.3,165.2L68.1,165.8ZM61.0,170.2L66.0,169.1L65.4,172.9L68.2,174.4L69.3,176.5L63.9,178.0L59.0,180.3L56.8,178.7L52.0,177.8L48.0,178.7ZM638.0,204.6L643.4,208.1L651.2,216.6L654.6,218.3L654.9,222.9L654.7,225.5L649.9,219.1L643.8,210.8ZM658.2,237.1L655.9,234.2L657.8,232.2L655.0,227.0L659.5,229.3L666.7,232.4L664.5,236.0L659.8,236.3ZM659.9,237.1L663.0,239.6L665.6,242.2L665.1,245.4L666.6,249.0L668.4,252.1L667.0,253.9L665.3,255.0L661.4,255.0L660.4,257.9L657.3,255.8L653.0,255.8L648.9,256.6L649.3,254.7L651.6,252.6L656.9,252.4L657.4,248.0L660.8,247.4L662.0,244.8L660.6,240.9L659.3,237.8ZM653.3,259.2L652.4,256.6L656.6,256.0L656.9,258.4ZM646.8,257.9L649.0,256.8L651.9,259.2L652.3,263.3L651.2,264.4L649.8,263.1L648.1,260.0ZM634.4,279.5L636.8,280.1L636.5,284.0L635.7,288.2L633.6,285.3L633.9,281.4ZM609.4,295.2L613.4,293.1L614.7,294.2L612.9,297.3L609.9,297.0ZM546.5,324.4L547.0,319.7L549.9,323.1L551.2,325.7L549.9,329.1L547.2,329.7ZM636.9,297.0L640.5,297.0L640.7,300.9L640.3,303.8L641.9,308.5L646.8,311.4L646.7,312.4L642.0,309.3L638.6,307.5L636.6,303.6L636.9,299.6ZM643.7,327.3L644.0,324.4L647.3,323.1L651.2,319.7L654.2,326.3L653.0,328.9L651.5,330.7L648.4,328.4L646.5,325.0ZM642.6,314.5L645.7,317.9L644.3,319.5L642.7,317.7ZM647.6,312.7L651.0,315.6L650.0,319.2L648.7,317.7ZM645.1,316.6L646.6,319.2L645.6,321.8L644.3,319.2ZM632.4,323.4L637.2,315.8L637.9,317.7L633.2,324.4ZM639.6,310.1L641.1,311.1L640.6,313.2L638.6,311.4ZM582.5,330.7L587.6,331.8L594.2,338.8L602.2,347.9L604.1,351.9L607.3,353.7L606.6,360.5L603.6,360.7L598.7,355.8L595.4,349.8L590.6,340.9L585.4,335.7ZM605.1,363.1L607.3,361.0L612.3,361.5L617.2,363.3L622.3,363.3L626.5,365.7L626.1,368.0L619.3,367.0L612.5,365.7L607.7,364.7ZM626.2,366.7L629.7,367.0L636.6,366.7L645.7,367.0L645.2,368.3L635.3,368.8L626.4,368.3ZM646.5,372.2L650.7,367.8L655.6,367.3L650.1,370.1ZM636.3,370.1L640.5,370.4L638.5,372.0ZM606.2,350.6L609.2,353.2L607.3,353.7ZM614.3,341.4L615.7,340.1L618.9,341.2L623.4,337.0L627.9,332.5L630.0,329.7L632.9,327.3L637.5,331.5L634.9,334.1L634.8,340.6L637.4,343.0L634.1,345.3L631.9,349.2L631.5,353.2L630.3,355.8L626.8,355.8L623.4,353.7L620.0,353.2L617.0,352.9L616.6,349.2L614.4,345.3ZM638.2,359.7L640.2,360.0L640.5,353.2L642.2,352.1L641.8,357.9L645.9,357.6L644.2,353.2L642.7,350.0L646.4,347.4L641.8,348.5L639.8,343.8L642.0,341.9L650.8,341.4L646.7,344.5L639.8,344.3L639.3,346.6L636.8,352.6ZM656.9,339.6L658.2,342.7L659.6,342.2L658.2,346.6L657.1,344.0ZM658.0,353.7L663.8,353.2L664.4,355.3L659.1,354.7ZM653.4,353.7L656.2,353.9L655.2,355.5ZM350.3,251.9L351.6,251.6L354.4,253.4L358.3,253.7L363.1,251.6L366.3,250.0L370.6,249.3L374.9,249.3L381.6,249.0L384.6,248.0L387.0,248.7L385.8,251.3L386.9,253.2L385.3,255.8L386.7,257.3L388.2,258.9L391.5,259.4L396.4,261.0L397.6,263.3L400.6,264.4L405.1,266.2L407.2,264.4L407.0,261.3L410.2,259.4L413.5,260.2L416.9,261.8L418.4,262.7L423.7,263.6L427.1,264.7L430.2,263.1L434.3,263.9L435.3,267.3L434.7,268.3L437.7,273.5L439.1,276.1L442.9,282.7L446.3,287.9L447.6,293.6L450.5,298.3L452.7,304.1L456.8,308.3L460.3,311.4L462.2,313.2L462.1,315.3L465.2,318.2L468.6,317.4L473.1,316.1L480.6,314.5L480.1,317.9L479.1,321.8L475.8,328.4L472.5,333.6L469.1,338.8L464.5,342.7L459.9,347.4L456.4,351.3L454.0,357.1L452.3,362.3L453.9,366.2L454.9,372.2L455.8,378.0L455.8,384.5L451.8,389.7L446.6,393.6L442.3,398.9L443.2,402.8L442.9,408.0L437.0,411.9L436.3,415.3L435.3,419.7L431.7,423.7L428.0,427.6L423.2,432.0L418.7,434.1L412.2,434.1L406.6,436.2L403.4,435.1L403.1,431.5L401.7,425.0L399.7,420.0L397.0,415.8L395.7,405.4L393.6,400.2L389.8,390.4L390.2,385.8L391.6,380.6L394.5,374.0L393.4,368.8L391.4,361.3L391.2,358.4L389.6,355.8L385.0,351.9L383.8,347.2L385.0,342.7L385.6,338.8L384.9,335.4L383.3,333.6L379.2,333.8L375.7,331.0L373.4,328.9L369.3,328.6L365.8,329.4L359.6,332.3L356.2,332.0L351.5,331.8L345.8,333.8L341.2,331.0L336.6,327.1L333.2,323.7L330.9,319.2L327.5,315.3L324.8,312.7L324.7,309.3L323.1,307.0L325.5,302.3L326.7,298.3L325.7,294.4L324.5,291.0L325.9,286.6L329.4,281.4L331.8,276.1L335.2,272.7L338.6,270.9L341.3,268.3L341.6,265.7L342.2,260.5L345.6,257.9L348.9,255.3ZM476.0,376.7L478.3,385.8L475.6,391.0L472.8,398.9L469.9,408.0L464.1,412.2L461.4,406.7L461.3,401.5L463.3,396.2L463.2,389.7L468.0,386.6L471.6,383.2L474.0,380.1ZM620.4,402.2L627.1,399.1L632.0,398.3L637.4,396.2L640.8,392.3L641.9,389.7L644.7,387.9L648.6,383.4L652.9,381.6L655.8,384.2L659.2,384.5L661.0,379.0L663.1,377.2L667.0,375.4L668.9,376.1L672.2,377.4L676.4,376.7L674.2,380.1L672.5,384.0L675.4,387.1L679.9,390.8L683.3,391.0L686.1,384.5L686.8,379.3L688.5,375.4L690.0,373.3L691.3,376.7L691.7,382.4L694.8,384.5L694.3,388.4L695.0,394.7L699.9,398.3L701.8,403.6L702.7,407.2L705.4,412.2L705.0,415.8L704.4,420.0L700.6,426.3L697.8,429.9L693.5,433.6L688.2,439.3L685.3,443.2L680.8,444.0L675.5,447.4L674.0,444.3L669.7,446.6L666.0,445.6L664.0,443.2L664.5,440.6L662.7,438.3L664.7,435.4L662.0,437.2L660.2,437.2L664.3,432.8L662.5,433.1L658.3,436.2L657.6,431.5L653.3,428.6L645.8,428.1L639.8,429.4L634.6,431.5L629.4,433.8L623.5,434.9L619.6,436.7L615.4,436.2L613.7,434.9L616.0,432.3L617.8,427.6L617.7,423.7L617.8,419.7L616.7,414.5L616.3,413.5L618.7,409.3L618.7,405.4ZM669.4,451.5L672.6,452.6L676.7,452.0L673.3,456.2L668.9,459.0L668.0,455.7ZM739.4,435.1L740.9,437.5L740.5,441.4L741.3,443.5L743.8,444.5L746.5,443.7L742.6,447.6L738.8,449.7L732.2,453.9L731.5,453.1L735.0,450.2L733.7,447.9L737.6,444.5L739.3,440.9L738.7,437.5ZM728.9,451.0L730.1,454.1L723.7,458.8L717.9,461.3L713.5,464.9L708.8,466.7L705.0,465.2L708.2,462.6L713.3,460.0L719.7,457.2L724.6,453.6ZM665.1,348.7L672.0,347.4L675.3,353.9L680.7,349.2L688.0,352.1L696.0,355.3L698.8,358.9L702.5,361.3L703.3,362.8L701.7,365.2L704.2,368.8L707.3,372.2L707.9,373.0L705.0,372.0L700.6,370.9L698.6,366.5L694.6,365.7L692.2,368.8L689.9,369.6L686.9,369.1L682.6,366.5L679.7,367.3L681.7,363.3L679.7,358.4L674.0,356.6L670.6,355.3L667.2,352.9L670.1,351.3L665.8,349.2ZM705.0,359.7L708.5,358.4L713.7,356.3L711.9,359.7L708.3,361.5L704.4,361.0ZM709.9,351.6L712.9,353.2L714.9,355.3L715.7,357.6L714.6,356.8L712.4,354.2L710.1,352.4ZM721.0,360.5L721.9,363.1L721.0,363.3L720.3,361.0ZM723.1,362.6L725.9,364.7L725.2,365.4L723.3,363.6ZM727.7,364.9L730.3,367.0L729.6,367.5L727.4,365.7ZM728.4,367.5L731.6,370.1L732.2,371.2L729.3,370.1ZM731.9,367.0L733.9,370.1L733.2,370.7L732.0,368.6ZM766.3,391.0L769.1,391.8L767.8,393.1L765.9,392.6ZM770.3,388.4L773.3,387.6L771.3,389.2ZM744.4,384.5L744.7,385.8L743.5,386.1ZM744.8,387.6L745.7,388.4L744.8,388.7Z" fill="#67a9cf"/>
<g clip-path="url(#landclip)">
<path d="M115.0,217.8L171.4,217.8L171.9,216.8L172.1,218.6L175.2,218.9L177.6,220.1L181.4,220.4L184.2,219.6L189.9,223.2L190.9,224.2L191.6,225.5L193.1,227.3L190.6,233.2L188.4,235.8L189.6,236.5L197.5,233.7L198.2,232.4L204.1,231.6L208.0,228.0L215.3,228.0L217.1,227.0L219.9,223.7L222.2,221.8L224.2,222.0L224.7,222.9L223.5,226.2L224.6,228.0L224.6,228.5L238.3,230.6L210.9,253.9L189.9,264.4L185.0,274.1L184.5,279.0L182.8,281.9L178.7,282.7L162.2,274.8L145.5,277.7L144.8,277.8L141.5,276.4L141.3,273.5L139.9,271.7L139.6,269.4L138.4,267.6L136.2,267.5L134.2,269.6L132.4,268.8L131.2,267.0L131.2,265.2L128.8,262.4L125.0,262.4L124.6,263.5L118.3,263.5L111.2,260.5L111.6,259.9L106.1,260.4L97.4,267.0L91.0,240.9L109.1,219.6L110.9,219.2L113.7,219.6ZM128.4,168.5L104.1,190.0L107.0,190.7L108.0,192.6L110.5,191.9L113.0,191.1L112.8,192.4L113.6,194.5L112.9,197.9L113.0,200.4L114.7,200.6L113.4,202.1L111.0,203.6L89.2,207.8L32.8,215.3L5.5,212.8L47.0,186.0L68.6,177.8L90.1,163.5L135.3,163.5ZM0.4,285.3L16.2,285.3L13.4,297.0L-2.5,297.0Z" fill="#2166ac" stroke="#5e5e5e" stroke-width="0.42" stroke-opacity="0.85"/>
<path d="M173.2,306.2L169.6,306.7L168.9,307.2L167.2,308.8L165.3,309.4L163.3,311.4L162.4,310.3L162.3,309.0L160.8,308.8L158.9,307.7L159.5,306.0L161.9,304.3L162.8,300.9L174.1,300.9Z" fill="#d1e5f0" stroke="#5e5e5e" stroke-width="0.42" stroke-opacity="0.85"/>
<path d="M200.4,293.9L200.5,295.2L200.1,296.8L200.1,298.3L200.0,299.6L192.5,299.6L193.9,294.4L196.4,292.9L200.6,292.3Z" fill="#fddbc7" stroke="#5e5e5e" stroke-width="0.42" stroke-opacity="0.85"/>
<path d="M160.4,298.8L160.5,298.5L162.6,297.0L164.4,296.8L163.5,304.6L160.4,303.8L159.6,303.8Z" fill="url(#hatch)" stroke="#5e5e5e" stroke-width="0.42" stroke-opacity="0.85"/>
<path d="M209.8,296.5L215.0,296.8L214.4,299.1L209.6,298.9Z" fill="url(#hatch)" stroke="#5e5e5e" stroke-width="0.42" stroke-opacity="0.85"/>
<path d="M185.3,322.7L185.6,324.7L183.9,326.5L174.3,329.7L174.1,353.2L178.0,354.2L178.3,356.3L179.9,357.1L181.1,358.4L182.4,354.7L187.4,352.1L189.7,347.9L188.9,345.7L191.3,347.4L194.8,351.3L198.3,351.3L201.8,356.3L202.8,347.9L201.6,343.8L203.5,342.7L208.9,342.2L212.5,343.0L215.5,340.1L216.9,339.6L214.9,335.4L218.4,334.9L223.3,331.8L225.1,333.8L225.7,337.0L225.0,341.7L227.5,342.2L230.3,340.9L232.8,340.4L231.0,336.5L229.4,334.9L231.4,329.9L234.4,321.8L221.0,314.0L198.4,310.1L185.1,319.2ZM231.4,398.0L232.4,403.0L236.8,403.6L237.5,404.3L238.0,407.7L240.3,407.7L241.0,408.3L240.7,412.2L240.6,414.8L238.9,416.9L237.1,416.9L232.4,416.6L233.3,413.2L233.9,411.4L229.4,408.8L225.9,407.5L221.7,403.4L222.7,398.9L223.1,396.5L229.0,395.7L231.3,397.0Z" fill="#d1e5f0" stroke="#5e5e5e" stroke-width="0.42" stroke-opacity="0.85"/>
<path d="M203.2,393.2L205.0,391.0L206.4,393.6L206.8,395.7L208.1,397.5L208.9,400.9L210.0,404.1L211.7,404.9L209.6,409.0L209.8,413.2L209.2,416.6L208.5,422.4L207.8,427.6L209.8,431.5L210.0,436.7L209.7,440.6L210.7,445.8L211.3,451.0L212.8,456.2L214.4,460.0L215.1,463.9L216.6,469.0L215.4,472.8L217.5,476.6L220.5,479.9L225.1,480.4L228.5,481.1L228.5,481.9L230.8,487.6L233.4,492.7L215.5,492.7L185.8,392.3Z" fill="#fddbc7" stroke="#5e5e5e" stroke-width="0.42" stroke-opacity="0.85"/>
<path d="M246.4,433.4L245.9,431.5L246.4,430.4L244.5,428.6L241.4,427.0L239.5,426.0L235.6,424.2L235.4,430.2L235.6,433.8L238.0,436.2L246.2,439.3L249.2,431.5Z" fill="#2166ac" stroke="#5e5e5e" stroke-width="0.42" stroke-opacity="0.85"/>
<path d="M238.8,330.3L237.5,332.8L238.6,335.9L237.4,339.3L238.4,339.8L241.1,339.6L244.0,334.4L245.7,329.7L238.9,327.1Z" fill="url(#hatch)" stroke="#5e5e5e" stroke-width="0.42" stroke-opacity="0.85"/>
<path d="M405.7,176.9L403.8,174.9L402.9,172.4L398.3,170.0L400.7,170.6L403.5,170.9L406.1,170.0L407.0,168.0L410.2,168.2L411.7,170.0L411.1,171.1L414.2,173.3L413.4,176.5L415.6,178.9L415.6,181.3L419.4,183.9L416.2,187.8L414.0,189.5L411.0,190.9L401.9,191.6L399.7,183.6L405.0,178.3ZM489.2,280.3L488.5,282.1L487.5,286.1L488.8,287.9L487.6,293.1L481.0,295.7L484.0,301.9L486.4,306.2L503.0,287.9L492.9,277.4L489.5,277.4ZM531.8,252.6L530.0,254.7L524.5,256.6L526.6,259.7L527.6,264.1L527.7,265.7L525.6,267.3L523.4,272.5L520.3,274.3L520.0,278.0L522.6,281.6L517.5,282.9L516.5,287.9L528.7,327.1L543.6,325.7L545.9,321.6L546.4,318.7L550.0,316.6L566.4,289.2L564.2,288.9L563.9,287.6L562.7,284.5L560.7,281.4L560.9,277.4L564.0,277.4L569.5,279.8L570.7,282.1L569.4,285.3L569.8,283.5L571.6,289.2L572.0,287.9L573.2,285.3L574.9,282.9L575.2,279.5L575.8,276.1L577.6,274.1L579.7,272.5L576.6,271.7L572.7,269.1L567.9,272.5L567.3,272.7L562.9,271.7L561.3,274.1L559.2,272.5L560.2,276.1L560.0,276.4L557.3,276.4L554.1,275.6L551.7,274.1L548.8,273.8L545.6,272.5L543.6,271.2L541.0,270.1L542.8,267.0L537.3,264.4L535.7,260.5L536.5,256.6L532.3,252.6Z" fill="#2166ac" stroke="#5e5e5e" stroke-width="0.42" stroke-opacity="0.85"/>
<path d="M408.7,205.6L409.6,205.3L412.4,204.6L412.8,203.1L414.0,201.1L416.8,199.9L421.4,200.9L424.5,204.1L424.6,207.3L426.9,207.1L425.7,210.0L423.5,212.0L418.4,211.3L413.4,210.5L409.5,211.3L409.9,208.6ZM402.3,228.0L403.8,230.6L403.1,231.9L402.1,233.2L401.8,234.5L399.6,233.2L397.5,231.9L395.6,229.6L395.7,227.5L396.7,227.5L399.2,227.8ZM440.8,251.6L442.0,249.3L445.0,249.3L451.8,248.5L454.3,248.2L452.9,252.9L452.4,255.5L447.9,258.1L441.3,260.0L441.4,258.4L442.9,256.0L441.3,254.9L439.2,254.7L438.8,251.6ZM454.3,248.2L455.2,248.0L459.5,248.4L461.6,251.6L463.1,253.9L463.8,259.2L467.7,261.8L469.3,267.0L468.6,266.7L466.3,269.4L462.2,269.1L455.7,264.1L449.2,261.3L447.9,258.1L452.4,255.5L452.9,252.9ZM460.6,302.5L461.7,301.7L463.1,299.9L468.8,300.2L474.3,296.8L481.0,295.7L484.0,301.9L484.2,308.8L461.6,314.0L460.0,304.9ZM593.4,328.4L595.6,330.2L598.0,329.1L603.8,334.9L604.0,342.2L601.7,342.2L593.5,337.5L592.0,328.4ZM615.7,340.1L617.9,343.2L621.3,342.5L624.8,343.0L627.1,342.5L628.8,338.8L629.4,335.9L631.4,334.1L634.2,334.4L639.5,334.9L636.6,324.4L623.1,329.7L614.3,338.8Z" fill="#fddbc7" stroke="#5e5e5e" stroke-width="0.42" stroke-opacity="0.85"/>
<path d="M408.6,217.6L411.0,214.3L409.5,211.3L413.4,210.5L418.4,211.3L423.5,212.0L425.7,210.0L430.0,209.8L433.6,213.8L438.0,214.5L442.9,216.3L444.2,219.6L443.9,220.9L441.0,222.7L438.3,226.0L438.4,227.5L431.7,230.6L424.3,227.3L421.2,226.8L424.4,224.0L422.3,220.6L419.7,219.6L416.9,219.6L412.8,220.5L409.5,220.4L407.8,219.4ZM416.9,219.6L419.7,219.6L422.3,220.6L424.4,224.0L421.2,226.8L420.5,223.7ZM391.1,226.8L393.1,226.5L394.6,226.8L395.1,225.5L396.8,224.2L398.6,225.6L401.9,225.7L402.3,227.5L402.3,228.0L399.2,227.8L396.7,227.5L395.7,227.5L395.6,229.6L397.5,231.9L399.6,233.2L401.8,234.5L400.9,235.8L390.0,229.3ZM401.8,234.5L402.1,233.2L403.1,231.9L405.5,233.2L405.2,234.5L404.2,235.3L403.7,236.0L402.0,236.3ZM403.7,236.0L404.2,235.3L405.2,234.5L406.4,236.0L406.4,238.1L407.5,239.4L406.8,240.9L405.6,242.0L403.5,242.2L402.0,236.3ZM446.5,232.2L451.8,232.7L456.2,234.0L460.7,236.0L458.1,237.8L455.0,238.1L450.5,237.1L447.1,235.8ZM455.0,238.1L458.1,237.8L459.5,239.4L460.9,241.5L462.4,243.8L458.4,241.7L455.6,240.4ZM432.8,255.5L438.9,255.5L438.5,251.9L432.4,251.9ZM495.2,249.8L495.8,252.4L498.3,253.2L499.8,251.9L502.5,250.6L503.9,247.4L506.1,247.7L509.0,248.2L511.3,248.0L513.9,247.2L514.0,245.1L516.5,246.4L516.7,249.5L519.4,249.3L524.3,248.2L525.0,250.0L529.7,251.9L531.8,252.6L530.0,254.7L524.5,256.6L526.6,259.7L527.6,264.1L527.7,265.7L525.6,267.3L523.4,272.5L520.3,274.3L520.0,278.0L522.6,281.6L517.5,282.9L516.2,285.3L501.2,281.4L501.2,279.5L503.4,275.9L504.3,274.3L501.7,268.6L498.0,267.5L499.2,263.6L496.9,263.1L495.5,257.9ZM564.2,288.9L563.9,287.6L562.7,284.5L560.7,281.4L560.9,277.4L564.0,277.4L569.5,279.8L570.7,282.1L569.4,285.3L571.6,289.2L572.4,290.5L569.2,293.1L564.3,290.5ZM531.5,235.3L528.4,233.7L521.9,233.2L517.6,232.7L512.1,235.0L511.0,237.1L512.7,237.1L517.7,238.9L512.2,238.9L510.0,239.6L508.9,240.9L508.6,244.8L509.0,248.2L511.3,248.0L513.9,247.2L514.0,245.1L516.5,246.4L516.7,249.5L519.4,249.3L524.3,248.2L523.4,244.8L520.1,242.2L523.1,239.6L525.8,238.4L528.5,237.1ZM539.7,217.3L542.5,214.0L546.2,213.5L552.1,215.0L558.5,215.8L557.3,211.0L565.2,212.0L567.4,214.5L574.8,214.5L581.2,217.1L588.0,216.6L591.9,214.8L596.8,215.5L597.1,220.1L602.5,221.4L607.8,223.7L603.3,224.0L597.9,228.5L594.0,227.8L594.6,232.2L585.9,235.8L583.1,236.5L572.6,234.2L564.8,233.7L560.8,229.8L556.3,228.0L550.6,227.3L548.0,222.9L540.8,218.9ZM627.6,241.2L629.9,237.3L632.7,236.8L634.2,235.8L637.0,234.7L639.5,235.8L639.4,240.9L637.5,244.6L635.1,245.4L633.9,246.9L630.7,247.4L626.2,242.2ZM593.5,286.8L592.4,286.6L591.7,289.5L589.6,292.1L591.1,294.4L593.2,299.4L596.0,298.3L599.6,299.6L601.8,302.5L604.2,308.3L598.4,308.0L597.0,310.1L598.9,314.8L598.2,317.9L602.9,318.4L602.7,318.2L604.1,316.9L606.4,315.0L609.2,313.2L608.6,307.0L607.0,303.6L605.5,301.5L601.5,297.0L598.9,294.9L600.0,293.1L597.2,291.3ZM561.3,274.1L562.9,271.7L567.3,272.7L568.5,275.1L563.7,275.6Z" fill="#d1e5f0" stroke="#5e5e5e" stroke-width="0.42" stroke-opacity="0.85"/>
<path d="M358.3,253.7L359.1,255.8L359.3,259.2L357.6,261.3L354.9,263.1L355.1,265.7L350.9,267.3L347.5,268.0L343.7,270.4L343.7,273.1L333.6,273.1L318.5,273.1L341.3,253.9L350.3,251.7L351.6,251.6L354.4,253.2L358.3,253.3ZM396.8,285.3L398.1,291.8L398.4,302.3L393.9,306.2L394.2,309.6L396.2,311.6L397.2,315.3L398.6,319.5L395.7,319.5L398.7,325.7L403.3,324.7L406.7,321.8L410.1,321.3L412.8,317.7L415.6,316.9L413.4,312.7L414.6,312.2L414.3,308.8L415.5,304.3L417.6,304.3L417.5,294.4ZM417.1,322.6L420.9,318.4L424.6,320.5L427.4,320.8L431.9,320.0L436.3,318.4L438.0,313.5L441.4,320.5L439.6,323.4L443.6,327.3L445.8,333.3L441.4,334.4L439.1,335.7L434.5,335.7L434.0,336.2L429.9,333.8L426.2,332.0L421.3,327.1L419.4,323.9ZM398.7,325.7L403.3,324.7L406.7,321.8L410.1,321.3L412.8,317.7L415.6,316.9L417.2,319.7L417.1,322.6L419.4,323.9L421.3,327.1L426.2,332.0L420.6,332.3L415.8,332.8L410.3,333.8L405.9,334.4L405.7,335.9L401.3,336.2L400.2,339.6L397.6,334.9L396.4,331.0ZM426.2,332.0L429.9,333.8L434.0,336.2L435.0,339.3L432.2,342.7L431.3,349.0L429.9,349.0L429.9,352.6L430.8,356.8L432.1,361.0L433.4,366.7L428.6,367.5L429.1,374.0L430.6,377.2L426.1,376.7L422.7,375.4L419.2,374.6L418.1,374.0L414.2,374.6L413.6,370.9L413.2,364.4L407.4,364.9L403.5,366.2L401.0,361.0L391.1,361.3L390.7,360.7L393.0,357.9L395.3,356.8L398.8,356.6L400.4,351.3L404.1,342.7L405.7,335.9L405.9,334.4L410.3,333.8L415.8,332.8L420.6,332.3Z" fill="#fddbc7" stroke="#5e5e5e" stroke-width="0.42" stroke-opacity="0.85"/>
<path d="M343.7,273.1L343.7,277.4L336.2,277.4L336.1,284.0L333.8,285.3L333.7,289.6L324.8,289.6L324.5,291.0L317.8,293.1L318.5,273.1L333.6,273.1Z" fill="url(#hatch)" stroke="#5e5e5e" stroke-width="0.42" stroke-opacity="0.85"/>
<path d="M381.6,249.0L381.0,251.3L381.3,255.0L381.3,260.5L384.1,266.5L385.7,262.6L388.2,258.9L391.4,256.6L387.7,246.1L382.4,247.4ZM417.5,294.4L417.6,304.3L415.5,304.3L414.3,308.8L414.6,312.2L413.4,312.7L415.6,316.9L417.2,319.7L417.1,322.6L420.9,318.4L424.6,320.5L427.4,320.8L431.9,320.0L436.3,318.4L438.0,313.5L441.4,320.5L441.7,317.4L443.9,313.0L446.2,308.0L447.3,300.9L450.5,298.3L451.2,297.0L448.4,287.9L446.3,287.9L433.7,287.9L419.5,287.9L419.7,293.1ZM405.7,335.9L404.1,342.7L400.4,351.3L398.8,356.6L395.3,356.8L393.0,357.9L390.7,356.8L389.5,357.9L386.1,358.4L381.5,347.9L385.2,342.7L389.1,342.7L389.1,339.6L393.0,339.6L400.2,339.6L401.3,336.2ZM362.8,316.3L365.1,316.6L366.3,320.8L366.7,329.1L366.7,332.3L365.4,332.3L365.8,329.4L364.4,327.1L364.2,323.1ZM434.0,336.2L434.5,335.7L439.1,335.7L441.4,334.4L443.7,340.6L441.5,344.8L441.2,347.9L433.4,347.9L431.3,349.0L432.2,342.7L435.0,339.3ZM429.9,349.0L433.4,348.2L434.0,351.3L429.9,352.6ZM431.9,386.1L438.5,381.9L441.4,384.5L441.2,388.1L443.2,390.0L443.5,387.1L443.7,383.4L443.1,380.6L442.4,375.4L449.0,375.6L455.8,372.7L461.8,371.4L443.4,415.8L436.3,415.3L434.7,413.2L434.9,409.3L433.6,403.8L436.1,400.2L437.8,397.5L437.5,394.9L438.0,388.9ZM422.9,422.6L425.3,420.3L428.3,421.8L427.2,424.4L424.5,425.2L422.8,423.7ZM459.4,374.0L482.3,374.0L479.1,415.8L456.8,415.8ZM460.1,312.7L462.6,311.9L463.4,315.3L461.4,316.7L460.7,316.3L458.9,316.3L458.9,315.0Z" fill="#d1e5f0" stroke="#5e5e5e" stroke-width="0.42" stroke-opacity="0.85"/>
<path d="M388.2,258.9L385.7,262.6L384.1,266.5L384.8,268.6L385.1,274.1L384.3,276.9L385.9,279.3L385.5,281.4L390.0,284.0L396.8,285.3L417.5,294.4L419.7,293.1L419.5,287.9L418.4,262.7L417.6,256.6L389.2,256.6Z" fill="#ef8a62" stroke="#5e5e5e" stroke-width="0.42" stroke-opacity="0.85"/>
<path d="M389.8,390.4L393.8,389.7L405.1,390.8L410.8,392.3L416.3,391.3L413.2,387.1L413.4,379.3L418.0,379.3L418.1,374.0L414.2,374.6L413.6,370.9L413.2,364.4L407.4,364.9L403.5,366.2L401.0,361.0L391.1,361.3L383.8,361.0L383.5,392.3ZM390.7,356.8L393.2,357.3L392.5,358.4L391.1,360.5L388.4,360.5L388.4,357.3Z" fill="#2166ac" stroke="#5e5e5e" stroke-width="0.42" stroke-opacity="0.85"/>
<path d="M152.3,307.3L152.8,306.0L152.6,305.5L153.9,303.4L156.9,303.4L157.0,302.5L155.1,300.3L156.1,300.3L156.3,298.8L160.4,298.8M158.9,307.7L157.1,309.4M166.5,316.4L169.7,316.7L171.2,316.8M173.5,320.3L172.6,321.8L172.5,324.4M185.3,322.7L185.6,324.7L183.9,326.5M197.6,314.4L196.8,316.6L194.7,321.3L195.8,321.6L196.9,324.4L196.6,326.0L199.7,327.3L201.8,327.2L207.7,329.1L207.0,331.0L208.0,336.5L206.8,338.0L208.6,339.6L208.9,342.2M225.2,323.0L223.5,325.2L223.9,327.3L221.7,329.9L223.3,331.8M180.9,342.2L183.7,343.2L186.6,344.5L188.9,345.7M201.8,356.3L195.2,358.9L193.1,364.4L194.9,369.9L197.3,371.4L201.2,374.0L203.5,373.9M203.5,373.9L205.8,378.2L205.3,381.9L205.1,385.3L205.8,387.6L204.7,390.5L205.0,391.0M203.5,373.9L205.8,374.3L211.5,370.9L213.3,373.5L215.4,377.4L218.8,378.2L222.4,380.6L224.7,381.4L225.6,384.8L230.2,387.9L230.2,391.0L232.2,392.8L231.3,397.0L231.4,398.0M211.7,404.9L214.8,403.0L218.2,404.9L221.7,403.4M240.7,412.2L243.2,413.7L243.0,416.1L238.9,419.2L235.6,424.2M232.8,340.4L234.2,340.4L236.3,338.8L238.4,339.8M344.3,236.0L345.8,235.5L349.2,236.0L348.5,238.4L348.2,241.7L347.1,242.2L348.1,243.8L347.4,245.6L347.0,248.2M359.3,232.2L362.0,233.7L364.5,233.7L366.6,234.5L369.8,234.7M368.1,212.5L369.4,213.5L371.4,214.5L372.7,215.8L374.7,216.6L375.9,216.7L379.6,217.8L378.5,221.4L377.3,221.7L375.6,224.7L377.4,225.7L376.7,227.8L378.7,231.1M369.8,211.8L372.0,211.8L374.6,212.3L374.8,213.4L375.6,214.5L374.7,216.6M374.8,213.4L374.9,210.8L376.5,210.0L376.8,208.8L377.1,207.1M379.6,203.1L381.6,203.2L382.4,203.4M390.6,205.6L391.2,207.3L391.7,208.8L392.1,211.3L392.9,212.8L391.5,213.0L388.0,214.5L387.2,214.5L388.5,216.1L390.9,218.3L389.4,220.4L389.5,221.7L387.8,221.2L384.4,221.7L382.6,221.7L380.3,221.2L378.5,221.4M377.4,225.7L380.3,224.7L381.6,226.0L383.8,224.5L384.5,223.2L382.6,222.7L382.6,221.7M384.5,223.2L388.0,222.9L391.1,224.2L393.0,224.5L395.8,223.7M391.1,224.2L391.1,226.5M390.9,218.3L393.1,217.8L395.4,218.6L397.2,218.9L397.7,220.4L396.6,221.7L395.8,223.7M392.9,212.8L396.0,214.3L398.0,214.5L400.3,215.5L399.3,217.8L397.2,218.9M400.3,215.5L402.2,216.8L405.1,216.9L408.6,217.6M408.7,205.6L407.2,204.3L401.0,204.3M407.2,204.3L406.8,202.8L403.8,202.3M403.2,200.1L406.9,199.6L410.7,199.9L414.0,201.1M408.7,196.0L410.9,195.8L414.7,196.7L416.8,199.9M414.7,196.7L414.8,193.3L414.9,191.9M397.7,220.4L401.2,220.9L404.1,219.6L407.8,219.4L407.8,221.9L406.1,225.0L404.7,225.1L401.9,225.7M396.8,224.2L395.8,223.7M404.7,225.1L407.4,227.5L409.7,229.1L410.2,230.1L409.8,231.9L411.0,233.7L410.3,235.0L408.2,235.1L406.4,236.0M402.3,227.5L403.8,230.6M406.4,238.1L407.5,238.6L411.0,238.0L411.6,237.3L410.3,235.0M411.6,237.3L414.7,236.8L418.0,236.5L418.6,237.8L418.1,238.9M410.2,230.1L413.0,231.4L416.2,231.5L419.2,230.6L422.6,231.3M418.0,236.5L420.9,235.8L421.9,235.8M450.5,237.1L455.0,238.1L455.6,240.4L458.4,241.7L459.5,248.4L455.2,248.0L451.8,248.5L445.0,249.3L442.0,249.3L440.8,251.6M460.7,236.0L465.3,236.3M462.4,243.8L465.4,242.8L467.8,245.1M458.4,241.7L458.1,244.8L459.5,248.4M447.9,258.1L449.2,261.3L455.7,264.1L462.2,269.1L466.3,269.4L468.6,266.7L469.3,267.0M441.3,260.0L441.4,264.4L440.5,268.3M438.4,263.6L440.4,268.3M449.2,261.3L444.5,263.1L447.0,265.7L446.1,267.5L442.9,269.1L440.7,268.7M466.3,269.4L470.7,270.9M477.1,280.7L479.0,281.4L481.6,285.5L487.5,286.1L488.8,287.9L487.6,293.1L481.0,295.7L474.3,296.8L468.8,300.2L463.1,299.9L461.7,301.7L460.6,302.5M488.4,277.4L489.2,280.3L488.5,282.1L487.5,286.1M479.0,248.0L481.9,246.1L485.6,245.6L491.0,247.4L493.4,249.8L495.2,249.8M495.2,249.8L495.5,257.9L496.9,263.1L499.2,263.6L498.0,267.5L501.7,268.6L504.3,274.3L503.4,275.9L501.2,279.5M517.5,250.0L517.9,253.9L515.8,256.6L514.8,259.2L516.1,262.8L512.8,263.1L510.3,267.0L509.9,267.5L503.8,268.3L498.0,267.5M463.9,224.5L462.1,221.7L458.6,219.6L456.7,217.8L457.9,214.3L462.0,211.5L467.0,211.5L472.5,213.3L477.3,212.8L481.7,214.0L485.2,212.8L481.3,210.3L482.4,207.8L483.4,205.3L489.5,203.6L496.4,201.8L500.7,204.8L505.9,205.8L511.5,205.3L516.2,209.0L522.2,213.3L528.9,212.8L534.8,216.6L538.8,217.6L539.7,217.3M538.8,217.6L536.5,222.9L532.2,222.4L533.0,226.8L528.6,228.5L531.1,233.2L531.5,235.3M512.1,235.0L508.6,237.3L503.7,237.8L501.8,235.8L501.0,233.2L492.3,231.9L483.5,226.5L478.8,228.0L481.2,237.6L476.4,235.0L474.4,235.5M481.2,237.6L483.4,237.8L485.6,234.2L489.2,235.8L492.4,238.1L495.2,240.7L500.9,244.1L506.1,247.7M520.1,242.2L515.3,242.0L511.8,240.9M596.8,215.5L599.6,216.6L598.7,209.0L601.9,206.8L609.9,208.3L618.6,215.8L627.7,220.4L632.3,221.2L635.7,219.6L636.5,222.9L638.0,228.0L634.0,228.3L637.3,233.2L637.0,234.7M607.0,289.2L603.5,285.8L600.6,284.8L596.3,286.1L593.5,286.8M591.7,289.5L588.5,287.9L586.7,285.3L584.9,282.1L582.4,280.6L582.0,273.5L579.7,272.5M589.6,292.1L586.3,293.9L585.1,297.0L588.4,302.8L588.0,306.2L590.0,310.9L589.3,317.9M604.2,308.3L606.4,307.5L608.6,307.0M541.0,270.1L542.7,266.5L545.5,266.2L548.3,268.8L552.0,270.7L554.6,272.5L559.2,272.5L561.3,274.1M383.9,193.3L385.2,190.7L385.4,187.1L384.4,182.4L387.7,180.1L388.2,176.7L390.3,173.3L393.4,171.1L396.6,170.0L398.3,170.0M411.7,170.0L414.5,168.6M350.9,202.3L349.0,203.1L347.9,204.8L349.7,204.8L351.4,205.3M359.2,200.9L357.9,202.1L357.3,202.8M343.7,274.1L352.3,280.3L365.8,290.5L367.6,292.6L370.3,293.6L372.7,295.3L376.2,294.7L381.2,291.5L390.0,284.0M343.7,274.1L343.7,277.4M352.3,280.3L349.6,280.3L350.5,302.3L351.0,302.8L337.9,306.2L337.1,304.6L335.2,307.2L332.3,303.3L325.5,303.0M335.2,307.2L337.0,313.0L340.2,314.3L343.8,315.8L344.2,318.7L344.5,319.0L348.8,318.7L350.4,318.2L350.7,314.5L353.0,312.2L354.1,310.1L358.5,308.0L361.9,305.9L363.5,306.4L366.0,305.4L371.3,304.6L372.8,301.2L372.7,295.3M324.8,313.0L331.7,312.4L337.0,313.0M324.6,309.8L327.6,309.8L331.5,310.1L327.6,310.6L324.9,311.1M331.7,312.4L331.7,314.8L328.7,316.9M332.5,321.8L334.6,319.5L337.3,319.2L338.7,321.3L339.4,323.1L336.6,327.3M339.4,323.1L341.4,326.0L343.7,325.5L344.0,325.2L344.9,323.1L344.2,320.5L344.5,319.0M344.0,325.2L343.5,328.4L345.8,333.8M350.4,318.2L353.2,320.0L356.9,320.5L357.3,324.4L355.7,329.1L355.9,332.0M356.9,320.5L356.6,316.6L362.8,316.3M365.1,316.6L368.1,315.6L368.1,314.3L365.3,311.4L363.5,306.4M368.1,314.3L371.3,314.8L369.3,321.8L369.3,328.6M371.3,314.8L372.4,310.1L376.8,309.8L381.4,311.6L385.9,310.9L391.7,311.1L394.2,309.6M394.2,311.4L396.3,314.0L394.3,316.9L391.8,323.1L390.2,327.1L385.6,329.1L382.9,333.1M400.2,339.6L393.0,339.6L389.1,339.6L385.6,339.3M389.1,339.6L389.1,342.7L385.2,342.7M393.5,339.6L396.3,342.7L394.2,346.6L396.5,350.6L391.9,351.3L390.0,352.1L388.6,355.5M419.5,287.9L433.7,287.9L438.9,287.9L446.3,287.9M445.8,333.3L450.6,335.9L455.2,334.9L459.6,334.9L457.5,338.0L457.6,347.9L459.0,349.8M441.4,334.4L443.7,340.6L441.5,344.8L441.2,347.9L449.5,353.7L453.3,357.6M459.6,334.9L466.5,332.5L473.2,324.4L464.1,321.8L461.8,319.2L461.2,316.6L462.1,315.3M446.2,308.0L449.6,306.4L452.1,307.2L454.4,307.5L458.0,311.4L460.1,312.7L458.9,315.0L461.2,316.9M429.9,352.6L433.1,351.9L434.0,354.2L430.8,356.8M441.2,347.9L433.4,347.9M433.4,366.7L437.7,369.3L438.8,369.9L442.4,375.4M438.8,369.9L439.3,377.4L438.5,381.9M431.9,386.1L428.0,388.4L424.4,392.1L420.6,391.8L416.3,391.3M433.6,403.8L429.4,403.3L426.3,401.5L425.7,398.9L422.1,394.9L420.6,391.8M410.8,392.3L410.2,402.8L408.2,402.8L408.0,410.1L407.5,419.5L403.0,420.5L399.7,420.0M408.0,410.1L407.7,415.3L413.4,413.2L415.7,411.9L420.2,412.7L423.6,406.9L429.4,403.3M432.5,412.7L434.6,414.0L434.0,416.6L431.8,415.3L432.5,412.7M688.0,352.1L686.9,369.1" fill="none" stroke="#5e5e5e" stroke-width="0.42" stroke-opacity="0.85"/>
</g>
<path d="M70.4,177.6L75.1,176.2L80.0,175.3L83.4,176.0L85.9,174.4L82.9,174.0L82.7,172.2L81.6,171.3L84.8,170.0L93.6,167.1L99.9,166.5L108.3,164.8L113.2,165.8L117.7,166.7L123.1,167.5L128.4,168.5L131.7,169.3L134.0,170.2L138.9,168.8L143.5,168.4L148.4,167.7L152.6,167.1L153.9,168.8L157.0,169.1L162.1,168.2L165.7,169.5L167.3,172.2L171.9,172.7L178.1,172.4L181.2,171.8L185.9,172.2L190.4,172.9L195.7,172.7L199.8,171.8L203.8,170.0L210.5,163.9L209.9,166.7L211.9,169.3L213.0,172.2L216.6,173.1L221.5,168.6L225.5,168.8L224.9,172.2L223.7,174.4L218.7,176.2L211.5,178.9L209.0,180.8L207.3,181.3L203.8,181.7L200.2,183.9L194.1,186.7L189.0,190.7L186.9,193.3L189.4,193.8L189.5,197.7L194.4,198.4L197.6,200.9L201.6,202.3L204.7,202.6L202.9,206.6L202.8,209.5L204.3,212.0L206.3,211.5L208.3,209.0L209.8,204.8L214.8,201.6L217.5,199.2L218.3,195.5L218.9,191.9L221.2,189.3L222.4,185.3L227.1,185.3L229.8,186.9L232.7,188.3L236.1,188.3L234.3,193.1L236.2,194.1L240.2,193.6L244.4,190.0L244.5,193.1L246.6,196.7L245.7,199.9L248.7,202.3L251.9,204.1L253.9,206.6L253.2,209.8L249.2,211.8L243.1,214.8L237.2,214.5L230.2,214.8L225.2,217.3L218.1,223.2L221.6,221.9L228.1,217.8L232.3,217.3L233.3,219.1L230.8,222.9L232.6,225.5L237.5,226.5L239.8,225.5L235.9,228.0L230.2,230.1L225.6,231.4L226.7,229.3L230.0,227.3L224.4,228.5L218.5,230.9L215.3,233.2L214.7,235.8L215.8,236.3L212.2,237.6L206.9,238.9L206.0,240.2L205.0,242.2L202.8,244.1L201.1,246.1L199.3,248.7L198.9,253.2L196.6,254.7L193.1,256.6L190.2,258.4L186.2,261.3L183.9,264.4L182.8,267.0L183.8,271.2L184.4,275.4L182.8,279.3L181.3,279.8L180.2,277.7L178.8,274.1L179.0,270.9L177.9,267.3L176.0,267.0L172.9,266.0L168.6,265.7L165.0,266.5L165.1,269.1L162.2,269.4L159.1,268.0L154.7,268.0L151.4,269.9L147.6,272.0L145.8,274.1L145.5,277.7L143.2,282.7L142.6,287.9L143.1,290.5L144.9,294.9L147.4,296.8L148.4,297.8L153.1,296.8L155.3,297.0L157.4,294.7L158.9,290.5L163.1,289.2L166.5,289.2L165.0,291.8L163.9,295.7L162.5,297.3L162.4,300.4L161.3,303.6L162.4,304.3L165.8,304.1L171.5,304.1L172.9,306.2L171.8,311.4L171.2,315.3L171.5,317.1L173.6,320.3L176.5,322.4L180.3,320.3L183.9,321.3L185.2,322.6L185.6,324.7L183.9,326.5L182.6,323.9L180.4,322.1L178.7,323.9L177.9,326.3L175.3,324.4L172.5,324.4L171.0,322.9L168.6,320.3L166.3,319.5L166.6,316.3L164.3,313.2L162.6,311.4L160.4,310.6L157.0,309.6L154.1,309.0L152.4,307.5L149.8,304.6L147.0,303.0L143.0,304.3L139.3,303.0L136.0,301.7L132.0,299.6L128.0,297.6L125.0,294.4L124.1,291.8L125.2,289.2L124.8,286.3L122.7,282.9L120.4,279.3L118.2,277.4L116.8,273.3L114.7,270.9L113.3,267.0L113.6,263.6L110.5,262.3L109.5,266.5L111.1,269.6L112.9,273.0L113.4,276.9L114.7,282.1L115.5,285.5L114.8,284.0L112.6,281.4L111.6,278.8L110.0,275.4L108.0,272.7L109.3,270.7L107.0,267.5L106.5,263.1L106.1,260.5L104.5,256.6L100.5,255.0L99.8,250.6L99.7,247.4L98.8,243.8L99.7,239.9L102.7,233.7L108.9,224.7L110.8,219.4L114.4,219.1L113.2,222.4L115.7,217.8L115.0,216.6L113.1,215.3L111.8,212.8L110.9,210.3L110.7,206.6L111.2,203.6L110.8,201.1L110.5,197.9L110.8,194.5L107.2,195.0L105.7,191.1L102.8,190.7L98.0,190.7L95.6,188.5L89.5,190.7L85.5,191.9L81.4,192.6L85.9,189.0L89.7,187.8L82.7,190.2L78.5,192.4L74.6,194.8L67.5,197.5L60.5,200.4L52.9,202.1L47.5,203.6L44.5,203.8L50.0,202.1L56.7,200.4L65.4,196.7L69.5,193.8L65.5,193.6L61.3,193.8L63.9,190.7L61.1,189.3L64.1,186.4L68.8,183.6L71.9,183.4L76.6,182.4L79.2,180.3L76.1,180.3L72.8,180.1L70.4,179.6ZM245.8,186.9L243.3,185.3L240.1,184.6L236.8,184.1L235.5,182.2L234.2,180.6L230.8,180.3L226.3,180.6L226.2,178.9L229.9,177.6L235.2,176.7L237.9,174.4L237.2,171.5L233.5,168.2L228.3,167.3L223.9,166.7L220.7,165.6L218.3,163.7L220.5,160.3L227.4,159.7L234.3,159.9L238.7,161.4L242.8,162.2L246.0,164.6L249.4,166.7L250.9,168.2L251.6,170.0L253.7,172.2L257.0,174.0L257.1,175.6L252.6,177.4L249.2,178.9L248.4,181.3L247.7,183.6L246.0,185.3ZM165.4,170.2L170.7,171.3L179.5,170.9L186.9,171.1L192.9,170.0L196.1,167.3L196.0,165.0L195.6,162.2L193.9,160.8L188.5,161.4L181.6,161.8L173.2,163.5L169.3,164.6L168.7,166.7L172.1,167.3L167.2,168.8ZM160.1,163.7L165.8,160.3L174.2,158.7L178.5,160.3L174.2,162.7L167.1,165.0L162.0,165.4ZM226.6,154.3L236.6,154.9L244.2,153.3L248.9,150.8L255.8,148.9L266.5,146.6L276.1,144.8L273.7,143.5L264.8,142.9L250.8,143.2L241.3,144.1L233.0,145.7L232.6,147.1L238.0,147.9L234.5,150.4L230.1,151.8L225.3,152.7ZM221.6,151.4L229.4,150.4L234.7,147.1L232.5,145.5L225.7,146.9L224.6,148.9ZM218.7,158.0L228.5,158.4L237.4,158.0L240.4,155.6L235.3,154.7L227.3,154.3L221.2,155.6ZM184.8,154.9L183.0,157.2L188.0,158.2L197.5,157.4L201.3,155.6L198.8,154.1L192.2,154.5ZM175.9,154.7L180.0,156.0L187.4,154.1L185.3,152.9ZM206.7,156.2L211.3,157.6L217.9,157.2L218.6,155.3L213.7,154.3L207.6,154.9ZM198.7,163.9L203.3,165.0L208.2,162.5L209.2,159.7L203.9,160.3L198.8,162.2ZM209.6,162.7L214.8,163.1L218.8,161.4L219.1,159.3L213.6,159.3L210.3,161.4ZM209.5,182.0L212.4,182.9L220.1,182.0L219.5,180.1L217.5,176.7L214.3,176.2L209.4,179.4ZM242.5,221.4L249.2,221.4L254.7,223.7L256.1,220.9L255.3,217.8L251.8,216.1L253.3,211.3L249.7,213.3L246.2,217.8L242.9,219.4ZM107.6,213.3L112.9,215.3L113.5,219.6L111.0,218.9L109.0,216.6ZM233.9,215.5L238.8,217.1L237.2,217.6L234.1,216.6ZM105.1,205.1L105.4,207.8L104.6,209.8L103.9,207.8ZM72.0,196.7L77.2,195.8L73.0,197.9ZM58.6,182.0L61.5,183.2L62.6,182.7L60.0,182.2ZM57.2,189.7L58.0,190.9L55.2,190.4ZM44.4,204.1L52.3,202.6L62.2,199.6L70.3,196.0L68.0,197.0L59.1,199.9L49.2,202.8ZM214.5,183.9L217.8,184.3L214.4,185.5ZM171.3,288.3L174.9,285.5L178.4,284.8L181.8,285.0L185.4,286.6L188.1,288.4L191.3,290.0L195.1,292.3L194.3,293.1L188.6,293.4L187.2,292.1L185.7,289.2L181.4,288.2L178.1,287.1L175.3,287.9L172.4,288.9ZM185.2,297.3L188.2,297.0L189.9,298.3L187.5,299.1L185.8,298.1ZM194.1,297.3L197.7,298.1L201.8,297.6L204.0,297.8L207.8,296.8L205.4,295.5L204.6,293.9L200.6,293.4L197.0,293.4L197.9,295.7L198.2,296.8L194.4,296.5ZM210.5,297.0L214.1,297.3L213.3,298.3L210.4,298.3ZM9.5,293.9L11.6,294.9L12.1,294.4L10.0,292.6L9.9,293.1ZM8.7,290.8L10.1,291.3L9.2,291.5ZM5.5,288.9L6.7,289.7L5.8,289.7ZM2.6,287.4L3.6,287.9L2.8,288.2ZM185.2,322.6L186.3,324.2L188.0,321.0L189.6,317.9L191.5,316.3L194.6,315.8L197.7,314.3L199.8,313.0L200.2,314.5L198.0,316.1L198.8,317.9L200.2,316.9L202.2,315.3L203.2,313.5L203.8,315.3L206.4,316.9L211.0,317.7L215.5,317.9L218.5,317.4L220.1,317.9L221.0,319.2L222.9,321.8L223.3,323.1L225.6,323.4L228.5,326.3L231.4,329.7L234.4,329.9L238.8,330.2L242.2,331.5L244.2,334.4L245.3,336.2L247.8,340.6L246.6,344.5L251.2,346.6L253.5,346.9L260.0,350.0L261.7,351.9L267.4,352.9L272.0,353.2L274.4,355.0L277.4,358.1L281.8,359.2L283.0,364.1L282.4,368.8L279.8,372.7L277.1,376.1L275.0,379.3L274.0,383.2L273.9,391.0L273.0,395.5L270.9,402.2L268.6,404.9L266.0,405.4L262.4,406.2L258.5,408.0L255.5,411.9L254.6,415.8L254.6,419.7L252.1,425.0L249.8,428.4L248.1,431.5L246.4,433.4L245.3,435.9L243.5,436.6L240.8,436.4L237.1,435.3L235.6,433.8L235.6,435.4L238.6,437.5L240.6,440.4L239.6,444.0L236.9,446.3L230.6,446.9L231.0,451.0L225.6,452.0L228.1,455.7L229.3,456.2L227.2,457.5L227.7,461.3L224.4,465.2L229.3,469.8L227.5,474.1L225.5,476.6L228.5,481.1L225.7,481.9L224.6,485.1L221.2,482.9L216.2,480.4L210.5,471.5L210.8,467.2L208.6,466.7L209.7,461.3L208.2,458.2L207.8,454.4L206.4,449.7L205.4,444.5L205.4,438.0L206.2,431.5L204.8,423.7L204.3,418.4L205.1,411.9L204.6,406.7L204.0,397.5L203.4,393.1L200.7,391.5L195.6,387.9L191.4,385.0L188.6,381.6L185.3,376.1L181.5,367.5L179.3,363.1L175.8,357.6L176.0,355.8L178.0,354.2L178.9,351.9L176.6,351.1L177.4,346.4L178.4,343.2L180.9,342.2L181.4,340.6L183.8,338.5L184.8,334.9L185.1,330.7L184.8,327.8L183.9,326.5ZM228.5,481.9L231.3,484.9L237.2,487.0L235.1,488.1L231.7,489.1L227.3,487.9L222.3,485.4L225.0,484.9L226.1,482.9ZM350.9,251.3L349.5,249.3L347.1,248.2L343.9,248.7L344.2,244.8L342.8,244.1L344.2,240.4L344.8,236.3L343.6,233.2L346.4,231.4L351.0,231.6L355.8,231.9L359.3,232.2L360.6,228.8L360.6,226.8L360.0,224.2L358.6,222.4L356.4,221.2L353.5,220.4L353.4,219.1L357.0,218.3L359.2,218.6L359.9,216.1L361.1,216.8L363.5,216.6L366.1,214.8L366.2,212.8L368.0,212.5L370.2,211.8L371.5,209.8L372.3,207.8L373.8,206.8L376.7,206.6L378.6,206.3L379.8,205.3L380.2,203.1L378.8,201.3L378.5,199.2L379.3,197.7L383.0,196.2L382.9,197.5L382.4,199.2L383.8,199.4L382.6,201.3L381.5,202.8L382.4,203.8L384.4,205.3L387.2,204.3L389.8,204.8L390.8,205.6L395.0,204.1L398.7,203.3L401.0,204.3L403.5,202.8L403.3,200.4L402.9,198.4L403.8,197.0L405.6,196.2L407.1,197.9L409.0,197.5L408.7,194.8L406.9,194.1L406.7,192.6L409.3,191.9L414.9,191.9L418.2,190.9L415.8,189.5L412.5,189.5L409.0,190.2L405.3,191.1L402.0,189.0L402.0,186.7L400.9,184.1L402.6,181.7L404.4,179.9L406.2,178.9L407.3,177.8L405.7,176.9L401.6,177.1L400.3,179.4L400.0,181.7L397.0,183.2L395.0,184.8L394.5,187.6L394.6,189.3L397.3,190.2L397.8,191.9L394.7,193.8L394.1,196.5L393.4,198.7L391.1,199.9L390.3,201.8L387.8,201.8L387.1,199.9L385.5,196.5L383.9,193.3L382.5,192.4L382.4,190.9L380.7,193.1L378.4,195.3L376.2,195.5L373.5,193.8L372.9,191.9L372.2,189.5L372.1,187.1L373.0,185.3L375.6,184.1L378.2,182.7L380.8,181.3L382.4,179.4L384.2,176.9L385.4,174.7L387.7,172.7L389.2,171.3L391.6,170.0L393.8,168.4L397.0,167.5L400.1,166.7L403.2,165.6L405.2,165.4L408.1,165.6L409.8,166.0L412.6,167.1L414.4,167.7L413.0,168.4L416.4,168.8L419.0,169.3L424.2,170.0L431.0,172.7L433.8,174.9L432.2,176.0L428.8,176.5L422.5,175.6L419.8,175.1L424.0,178.9L427.3,180.1L429.6,181.7L429.9,179.9L434.4,180.1L434.2,177.8L435.5,175.6L439.2,176.2L439.1,173.8L436.6,171.5L440.9,171.8L443.0,172.9L446.3,172.7L449.1,171.3L453.2,171.1L455.8,171.1L459.0,170.9L462.7,171.5L463.7,168.4L464.4,168.2L470.0,169.3L473.7,170.0L476.0,171.1L478.9,171.8L478.3,169.5L474.9,167.7L472.4,165.6L473.0,162.5L473.9,161.4L479.0,161.8L481.4,164.6L481.6,166.7L484.9,170.0L487.7,172.2L485.8,174.7L486.6,176.0L488.9,175.6L489.2,173.3L489.0,171.1L491.9,170.9L491.5,169.5L487.9,170.0L485.6,168.4L485.8,166.7L482.6,164.6L483.4,162.5L487.1,165.2L490.2,165.0L487.8,162.9L490.8,162.7L490.7,160.1L489.7,159.3L498.0,159.7L498.7,158.2L497.7,156.8L501.5,156.0L506.5,155.1L511.3,155.3L514.7,154.3L514.6,152.9L518.3,152.0L521.8,152.7L526.3,153.9L531.1,154.1L536.8,155.4L540.9,159.3L540.2,160.1L543.6,160.3L550.0,160.3L552.6,161.2L560.0,161.4L566.4,162.7L571.5,164.1L575.0,165.6L577.7,165.8L577.7,164.6L583.1,164.4L587.4,164.6L588.0,162.7L587.7,161.8L598.0,162.9L606.9,164.6L612.4,166.0L620.3,165.8L625.7,166.5L630.0,168.4L635.0,168.4L641.1,168.6L644.4,167.5L649.6,168.2L655.4,168.2L665.1,170.2L678.1,178.7L677.1,179.9L674.1,179.6L677.7,183.6L684.7,184.8L677.3,186.7L677.1,190.7L667.9,190.0L666.6,191.1L664.1,190.9L666.9,195.5L674.1,199.9L674.7,202.8L673.1,204.8L673.3,208.1L674.3,212.8L669.4,209.0L662.5,202.8L658.6,198.4L658.0,196.0L659.8,194.5L660.0,191.9L659.7,189.3L652.3,186.9L647.1,187.1L648.9,192.4L645.6,193.1L639.2,191.4L633.7,192.4L627.9,192.1L626.1,195.0L625.3,199.2L626.9,202.8L632.4,204.8L639.0,207.3L641.1,211.5L644.8,216.6L645.7,222.9L645.0,229.3L641.4,233.7L637.5,234.2L637.1,235.0L637.2,238.4L635.1,240.9L634.9,242.8L637.5,244.6L641.9,248.7L643.8,252.6L642.4,253.9L638.6,255.3L637.0,252.6L636.4,249.0L634.1,246.9L632.0,246.9L630.4,245.9L630.3,242.5L627.6,241.2L625.0,242.0L622.5,243.5L621.7,240.4L619.1,238.9L617.2,241.2L614.8,243.0L614.7,244.8L618.5,247.4L620.0,248.5L622.4,246.7L626.7,248.0L623.8,251.1L622.4,253.9L625.3,255.8L628.5,260.5L631.3,262.6L631.1,264.9L633.3,267.5L633.2,270.9L631.9,273.5L630.7,277.4L629.2,281.4L625.5,285.5L621.3,287.1L619.1,287.4L614.9,289.2L612.6,290.0L612.1,292.3L610.6,288.9L607.0,289.2L604.4,291.3L603.1,294.4L602.8,297.0L605.3,300.2L608.5,302.8L611.4,305.6L613.0,310.1L613.3,315.0L610.4,317.4L607.8,319.7L604.6,322.9L603.6,318.7L600.5,317.7L598.0,313.5L593.8,310.1L592.0,312.7L590.7,318.4L592.5,321.3L593.9,326.3L596.1,327.3L598.0,329.1L601.2,332.8L601.6,338.0L603.3,341.7L601.4,341.4L596.5,338.0L594.3,333.6L593.9,329.7L592.4,327.3L589.0,323.7L589.1,317.9L587.6,312.2L586.0,304.9L584.3,301.2L581.8,302.8L578.5,303.8L577.2,297.0L575.2,293.9L571.9,291.3L570.0,286.6L567.3,287.9L564.0,288.4L559.6,291.0L559.0,293.4L555.5,295.7L550.3,302.0L546.2,304.1L546.5,310.6L546.4,318.4L544.3,321.8L541.2,324.2L538.7,320.5L536.8,315.3L533.9,310.1L530.6,303.6L528.5,296.0L527.4,290.5L526.7,288.2L525.9,290.5L523.2,291.0L519.1,287.1L520.8,285.8L517.2,284.0L514.2,281.1L512.4,279.0L507.7,279.3L501.2,279.5L496.4,279.0L491.4,278.0L489.8,274.6L487.1,275.9L483.7,275.4L477.7,272.5L475.1,268.8L471.4,266.2L469.3,267.0L468.9,268.8L470.7,270.9L473.0,274.3L475.4,276.9L476.4,280.1L478.6,277.7L479.0,281.4L483.3,282.4L487.4,278.8L489.0,276.7L489.6,280.3L491.7,282.9L494.9,283.7L497.9,286.6L495.5,291.8L494.2,295.7L492.0,296.8L489.3,299.4L488.2,300.9L482.1,304.6L476.1,307.2L474.4,308.8L469.4,310.3L466.1,311.9L462.6,312.2L461.3,307.5L460.4,303.6L459.7,299.6L456.5,294.4L452.3,289.2L451.0,286.6L448.5,282.4L446.0,278.5L441.4,272.0L440.4,268.3L439.4,272.2L437.9,272.7L435.3,267.3L434.3,263.9L438.4,263.6L439.6,260.0L440.6,256.8L441.0,253.4L441.0,251.3L441.1,249.3L439.7,249.8L436.6,250.6L433.6,251.1L429.9,249.3L428.8,250.6L425.9,249.8L422.3,248.7L421.4,246.1L419.8,244.8L419.9,242.2L418.7,240.9L421.4,239.9L424.4,238.4L429.2,238.1L433.5,235.8L437.1,235.8L441.2,237.8L445.5,238.4L450.5,237.1L450.2,234.2L446.5,232.2L442.9,229.6L440.7,228.8L438.8,227.3L436.3,227.3L434.6,229.3L432.5,229.1L430.3,227.0L432.0,226.0L428.7,225.0L426.1,224.2L424.3,227.3L422.9,230.6L421.5,232.7L421.7,235.8L422.0,236.8L424.3,238.1L421.2,238.4L418.6,239.4L418.1,238.9L415.9,238.6L413.5,239.1L411.6,239.4L411.1,240.9L412.8,243.0L412.1,244.8L414.5,245.9L412.4,246.4L413.2,250.0L411.5,250.3L409.9,249.3L408.6,246.7L409.5,245.4L407.3,244.1L406.1,242.0L404.2,239.9L404.1,236.3L401.8,234.5L399.6,233.2L396.4,231.9L394.6,230.1L393.0,227.5L391.1,226.5L388.4,227.3L389.0,229.8L391.4,231.6L394.2,235.5L396.9,236.0L399.4,238.4L402.4,240.7L401.1,240.4L399.1,239.6L398.2,241.7L399.6,243.5L397.6,246.1L396.5,245.6L396.7,242.2L394.7,240.4L392.7,238.9L389.4,237.1L386.3,234.7L385.0,233.2L383.4,230.4L381.1,229.6L378.7,231.1L376.0,232.9L373.1,232.2L369.7,233.2L369.8,235.3L367.3,237.8L364.8,239.1L362.4,242.2L363.5,244.1L361.6,247.2L358.5,249.5L353.6,249.5ZM351.7,215.0L354.7,214.3L357.1,213.5L361.1,213.3L365.8,212.3L365.0,210.8L366.4,208.6L363.6,206.8L362.7,205.3L360.6,203.6L360.0,201.3L358.3,200.4L358.3,198.9L359.7,196.5L356.9,196.2L355.5,196.5L357.3,194.1L353.7,194.1L352.7,195.5L352.5,197.2L351.7,198.4L352.6,200.4L353.5,201.6L353.6,203.3L356.1,204.1L356.8,205.3L357.2,207.1L354.1,207.1L354.8,208.3L355.0,209.5L352.6,210.8L354.8,211.3L356.5,211.8L354.3,212.3ZM351.3,209.8L351.2,206.6L352.3,203.6L350.9,202.3L348.6,202.3L346.8,203.8L343.7,204.8L343.8,206.8L344.8,208.8L342.6,210.3L344.1,211.5L346.9,210.8L350.7,209.8ZM324.1,181.5L321.2,177.8L324.2,175.8L328.4,176.5L335.5,175.6L337.9,176.7L339.3,178.7L336.6,180.6L331.0,182.4L325.8,181.7L322.8,181.5ZM381.0,233.5L382.7,233.2L383.2,235.3L382.5,237.3L381.1,236.0ZM380.8,238.6L382.5,237.8L383.8,239.6L383.5,243.0L382.3,243.5L381.0,243.5L381.1,240.9ZM389.7,246.1L391.6,245.6L396.5,245.4L395.5,247.7L395.9,249.5L389.9,247.2ZM414.0,252.4L416.2,252.9L420.2,253.2L417.4,253.9L414.1,253.4ZM433.3,253.7L434.7,252.9L438.1,252.1L436.5,253.9L434.7,255.0L433.3,254.5ZM384.2,202.1L386.9,200.1L387.2,201.8L385.8,202.8ZM381.9,201.6L383.8,201.6L383.3,202.8ZM397.2,195.8L398.7,196.7L397.7,197.9ZM379.2,150.4L386.1,147.9L394.6,147.7L401.7,147.4L399.5,149.5L394.2,151.4L390.3,154.1L386.3,152.7L383.0,151.0ZM393.2,150.4L397.6,150.4L396.6,152.4ZM447.7,164.8L451.2,160.8L451.9,157.8L457.8,155.3L466.3,153.5L465.5,155.3L457.5,156.8L454.7,161.4L454.4,165.6L450.0,166.0ZM434.1,146.8L444.9,146.0L451.2,146.8L441.9,147.5ZM502.2,149.5L507.5,148.5L515.3,149.5L515.6,151.4L510.6,151.6ZM494.9,147.5L499.9,146.0L506.4,147.5L501.8,148.5ZM574.1,156.2L580.8,155.6L595.2,156.8L592.2,157.8L586.1,160.1L576.6,157.8ZM653.3,164.6L655.3,164.4L658.0,165.8L656.0,165.6ZM70.8,164.4L73.3,165.2L68.1,165.8ZM61.0,170.2L66.0,169.1L65.4,172.9L68.2,174.4L69.3,176.5L63.9,178.0L59.0,180.3L56.8,178.7L52.0,177.8L48.0,178.7ZM638.0,204.6L643.4,208.1L651.2,216.6L654.6,218.3L654.9,222.9L654.7,225.5L649.9,219.1L643.8,210.8ZM658.2,237.1L655.9,234.2L657.8,232.2L655.0,227.0L659.5,229.3L666.7,232.4L664.5,236.0L659.8,236.3ZM659.9,237.1L663.0,239.6L665.6,242.2L665.1,245.4L666.6,249.0L668.4,252.1L667.0,253.9L665.3,255.0L661.4,255.0L660.4,257.9L657.3,255.8L653.0,255.8L648.9,256.6L649.3,254.7L651.6,252.6L656.9,252.4L657.4,248.0L660.8,247.4L662.0,244.8L660.6,240.9L659.3,237.8ZM653.3,259.2L652.4,256.6L656.6,256.0L656.9,258.4ZM646.8,257.9L649.0,256.8L651.9,259.2L652.3,263.3L651.2,264.4L649.8,263.1L648.1,260.0ZM634.4,279.5L636.8,280.1L636.5,284.0L635.7,288.2L633.6,285.3L633.9,281.4ZM609.4,295.2L613.4,293.1L614.7,294.2L612.9,297.3L609.9,297.0ZM546.5,324.4L547.0,319.7L549.9,323.1L551.2,325.7L549.9,329.1L547.2,329.7ZM636.9,297.0L640.5,297.0L640.7,300.9L640.3,303.8L641.9,308.5L646.8,311.4L646.7,312.4L642.0,309.3L638.6,307.5L636.6,303.6L636.9,299.6ZM643.7,327.3L644.0,324.4L647.3,323.1L651.2,319.7L654.2,326.3L653.0,328.9L651.5,330.7L648.4,328.4L646.5,325.0ZM642.6,314.5L645.7,317.9L644.3,319.5L642.7,317.7ZM647.6,312.7L651.0,315.6L650.0,319.2L648.7,317.7ZM645.1,316.6L646.6,319.2L645.6,321.8L644.3,319.2ZM632.4,323.4L637.2,315.8L637.9,317.7L633.2,324.4ZM639.6,310.1L641.1,311.1L640.6,313.2L638.6,311.4ZM582.5,330.7L587.6,331.8L594.2,338.8L602.2,347.9L604.1,351.9L607.3,353.7L606.6,360.5L603.6,360.7L598.7,355.8L595.4,349.8L590.6,340.9L585.4,335.7ZM605.1,363.1L607.3,361.0L612.3,361.5L617.2,363.3L622.3,363.3L626.5,365.7L626.1,368.0L619.3,367.0L612.5,365.7L607.7,364.7ZM626.2,366.7L629.7,367.0L636.6,366.7L645.7,367.0L645.2,368.3L635.3,368.8L626.4,368.3ZM646.5,372.2L650.7,367.8L655.6,367.3L650.1,370.1ZM636.3,370.1L640.5,370.4L638.5,372.0ZM606.2,350.6L609.2,353.2L607.3,353.7ZM614.3,341.4L615.7,340.1L618.9,341.2L623.4,337.0L627.9,332.5L630.0,329.7L632.9,327.3L637.5,331.5L634.9,334.1L634.8,340.6L637.4,343.0L634.1,345.3L631.9,349.2L631.5,353.2L630.3,355.8L626.8,355.8L623.4,353.7L620.0,353.2L617.0,352.9L616.6,349.2L614.4,345.3ZM638.2,359.7L640.2,360.0L640.5,353.2L642.2,352.1L641.8,357.9L645.9,357.6L644.2,353.2L642.7,350.0L646.4,347.4L641.8,348.5L639.8,343.8L642.0,341.9L650.8,341.4L646.7,344.5L639.8,344.3L639.3,346.6L636.8,352.6ZM656.9,339.6L658.2,342.7L659.6,342.2L658.2,346.6L657.1,344.0ZM658.0,353.7L663.8,353.2L664.4,355.3L659.1,354.7ZM653.4,353.7L656.2,353.9L655.2,355.5ZM350.3,251.9L351.6,251.6L354.4,253.4L358.3,253.7L363.1,251.6L366.3,250.0L370.6,249.3L374.9,249.3L381.6,249.0L384.6,248.0L387.0,248.7L385.8,251.3L386.9,253.2L385.3,255.8L386.7,257.3L388.2,258.9L391.5,259.4L396.4,261.0L397.6,263.3L400.6,264.4L405.1,266.2L407.2,264.4L407.0,261.3L410.2,259.4L413.5,260.2L416.9,261.8L418.4,262.7L423.7,263.6L427.1,264.7L430.2,263.1L434.3,263.9L435.3,267.3L434.7,268.3L437.7,273.5L439.1,276.1L442.9,282.7L446.3,287.9L447.6,293.6L450.5,298.3L452.7,304.1L456.8,308.3L460.3,311.4L462.2,313.2L462.1,315.3L465.2,318.2L468.6,317.4L473.1,316.1L480.6,314.5L480.1,317.9L479.1,321.8L475.8,328.4L472.5,333.6L469.1,338.8L464.5,342.7L459.9,347.4L456.4,351.3L454.0,357.1L452.3,362.3L453.9,366.2L454.9,372.2L455.8,378.0L455.8,384.5L451.8,389.7L446.6,393.6L442.3,398.9L443.2,402.8L442.9,408.0L437.0,411.9L436.3,415.3L435.3,419.7L431.7,423.7L428.0,427.6L423.2,432.0L418.7,434.1L412.2,434.1L406.6,436.2L403.4,435.1L403.1,431.5L401.7,425.0L399.7,420.0L397.0,415.8L395.7,405.4L393.6,400.2L389.8,390.4L390.2,385.8L391.6,380.6L394.5,374.0L393.4,368.8L391.4,361.3L391.2,358.4L389.6,355.8L385.0,351.9L383.8,347.2L385.0,342.7L385.6,338.8L384.9,335.4L383.3,333.6L379.2,333.8L375.7,331.0L373.4,328.9L369.3,328.6L365.8,329.4L359.6,332.3L356.2,332.0L351.5,331.8L345.8,333.8L341.2,331.0L336.6,327.1L333.2,323.7L330.9,319.2L327.5,315.3L324.8,312.7L324.7,309.3L323.1,307.0L325.5,302.3L326.7,298.3L325.7,294.4L324.5,291.0L325.9,286.6L329.4,281.4L331.8,276.1L335.2,272.7L338.6,270.9L341.3,268.3L341.6,265.7L342.2,260.5L345.6,257.9L348.9,255.3ZM476.0,376.7L478.3,385.8L475.6,391.0L472.8,398.9L469.9,408.0L464.1,412.2L461.4,406.7L461.3,401.5L463.3,396.2L463.2,389.7L468.0,386.6L471.6,383.2L474.0,380.1ZM620.4,402.2L627.1,399.1L632.0,398.3L637.4,396.2L640.8,392.3L641.9,389.7L644.7,387.9L648.6,383.4L652.9,381.6L655.8,384.2L659.2,384.5L661.0,379.0L663.1,377.2L667.0,375.4L668.9,376.1L672.2,377.4L676.4,376.7L674.2,380.1L672.5,384.0L675.4,387.1L679.9,390.8L683.3,391.0L686.1,384.5L686.8,379.3L688.5,375.4L690.0,373.3L691.3,376.7L691.7,382.4L694.8,384.5L694.3,388.4L695.0,394.7L699.9,398.3L701.8,403.6L702.7,407.2L705.4,412.2L705.0,415.8L704.4,420.0L700.6,426.3L697.8,429.9L693.5,433.6L688.2,439.3L685.3,443.2L680.8,444.0L675.5,447.4L674.0,444.3L669.7,446.6L666.0,445.6L664.0,443.2L664.5,440.6L662.7,438.3L664.7,435.4L662.0,437.2L660.2,437.2L664.3,432.8L662.5,433.1L658.3,436.2L657.6,431.5L653.3,428.6L645.8,428.1L639.8,429.4L634.6,431.5L629.4,433.8L623.5,434.9L619.6,436.7L615.4,436.2L613.7,434.9L616.0,432.3L617.8,427.6L617.7,423.7L617.8,419.7L616.7,414.5L616.3,413.5L618.7,409.3L618.7,405.4ZM669.4,451.5L672.6,452.6L676.7,452.0L673.3,456.2L668.9,459.0L668.0,455.7ZM739.4,435.1L740.9,437.5L740.5,441.4L741.3,443.5L743.8,444.5L746.5,443.7L742.6,447.6L738.8,449.7L732.2,453.9L731.5,453.1L735.0,450.2L733.7,447.9L737.6,444.5L739.3,440.9L738.7,437.5ZM728.9,451.0L730.1,454.1L723.7,458.8L717.9,461.3L713.5,464.9L708.8,466.7L705.0,465.2L708.2,462.6L713.3,460.0L719.7,457.2L724.6,453.6ZM665.1,348.7L672.0,347.4L675.3,353.9L680.7,349.2L688.0,352.1L696.0,355.3L698.8,358.9L702.5,361.3L703.3,362.8L701.7,365.2L704.2,368.8L707.3,372.2L707.9,373.0L705.0,372.0L700.6,370.9L698.6,366.5L694.6,365.7L692.2,368.8L689.9,369.6L686.9,369.1L682.6,366.5L679.7,367.3L681.7,363.3L679.7,358.4L674.0,356.6L670.6,355.3L667.2,352.9L670.1,351.3L665.8,349.2ZM705.0,359.7L708.5,358.4L713.7,356.3L711.9,359.7L708.3,361.5L704.4,361.0ZM709.9,351.6L712.9,353.2L714.9,355.3L715.7,357.6L714.6,356.8L712.4,354.2L710.1,352.4ZM721.0,360.5L721.9,363.1L721.0,363.3L720.3,361.0ZM723.1,362.6L725.9,364.7L725.2,365.4L723.3,363.6ZM727.7,364.9L730.3,367.0L729.6,367.5L727.4,365.7ZM728.4,367.5L731.6,370.1L732.2,371.2L729.3,370.1ZM731.9,367.0L733.9,370.1L733.2,370.7L732.0,368.6ZM766.3,391.0L769.1,391.8L767.8,393.1L765.9,392.6ZM770.3,388.4L773.3,387.6L771.3,389.2ZM744.4,384.5L744.7,385.8L743.5,386.1ZM744.8,387.6L745.7,388.4L744.8,388.7Z" fill="none" stroke="#5e5e5e" stroke-width="0.42" stroke-opacity="0.85"/>
<path d="M198.8,316.9L199.5,316.9L200.1,318.7L198.8,321.3L197.7,320.5L198.1,318.2ZM459.9,229.3L460.9,226.5L463.3,224.0L467.1,222.9L471.6,224.2L472.4,227.3L469.4,229.3L469.7,233.2L474.2,236.3L474.8,237.8L476.9,237.1L479.1,237.6L478.0,238.9L475.3,239.4L475.7,240.9L477.8,243.0L478.2,248.0L474.1,249.3L468.4,247.4L467.9,244.8L468.1,240.2L465.1,236.3L462.4,233.2L460.6,230.1ZM435.1,226.5L438.5,226.9L441.0,224.7L443.0,222.4L440.6,222.9L437.7,223.7L434.9,225.0Z" fill="#fff" stroke="#5e5e5e" stroke-width="0.42" stroke-opacity="0.85"/>
</svg><svg width="850" height="600" style="position:absolute;left:0;top:0" font-family="Liberation Sans, sans-serif" font-size="13" fill="#5b5b5b">
<defs><pattern id="hatch2" patternUnits="userSpaceOnUse" width="3.4" height="10" patternTransform="rotate(52)"><rect width="3.4" height="10" fill="#fff"/><rect width="1.2" height="10" fill="#dddddd"/></pattern></defs>
<text x="239.3" y="530.2" text-anchor="middle">No data</text>
<line x1="239.3" y1="534" x2="239.3" y2="537.2" stroke="#a0a0a0" stroke-width="0.6"/>
<rect x="215.8" y="537.4" width="47.3" height="10.8" rx="1" fill="url(#hatch2)" stroke="#c4c4c4" stroke-width="0.7"/>
<path d="M282.8,542.8 L289,537.4 L341,537.4 L341,548.2 L289,548.2 Z" fill="#b2182b"/>
<rect x="341" y="537.4" width="58.7" height="10.8" fill="#ef8a62"/>
<rect x="399.7" y="537.4" width="58.7" height="10.8" fill="#fddbc7" stroke="#c8c8c8" stroke-width="0.4"/>
<rect x="458.4" y="537.4" width="58.6" height="10.8" fill="#d1e5f0" stroke="#c0c0c0" stroke-width="0.4"/>
<rect x="517" y="537.4" width="58.4" height="10.8" fill="#67a9cf"/>
<path d="M575.4,537.4 L628.3,537.4 L634.3,542.8 L628.3,548.2 L575.4,548.2 Z" fill="#2166ac"/>
<g stroke="#a0a0a0" stroke-width="0.6"><line x1="341" y1="533" x2="341" y2="548.2"/><line x1="399.7" y1="533" x2="399.7" y2="548.2"/><line x1="458.4" y1="533" x2="458.4" y2="548.2"/><line x1="517" y1="533" x2="517" y2="548.2"/><line x1="575.4" y1="533" x2="575.4" y2="548.2"/></g>
<text x="341" y="530.2" text-anchor="middle">-2</text>
<text x="399.7" y="530.2" text-anchor="middle">-1</text>
<text x="458.4" y="530.2" text-anchor="middle">0</text>
<text x="517" y="530.2" text-anchor="middle">1</text>
<text x="575.4" y="530.2" text-anchor="middle">2</text>
</svg>
<div class="t" id="src"><b>Data source:</b> V-Dem (2025)</div>
<div class="t" id="url">OurWorldinData.org/state-capacity | CC BY</div>
</body></html>
